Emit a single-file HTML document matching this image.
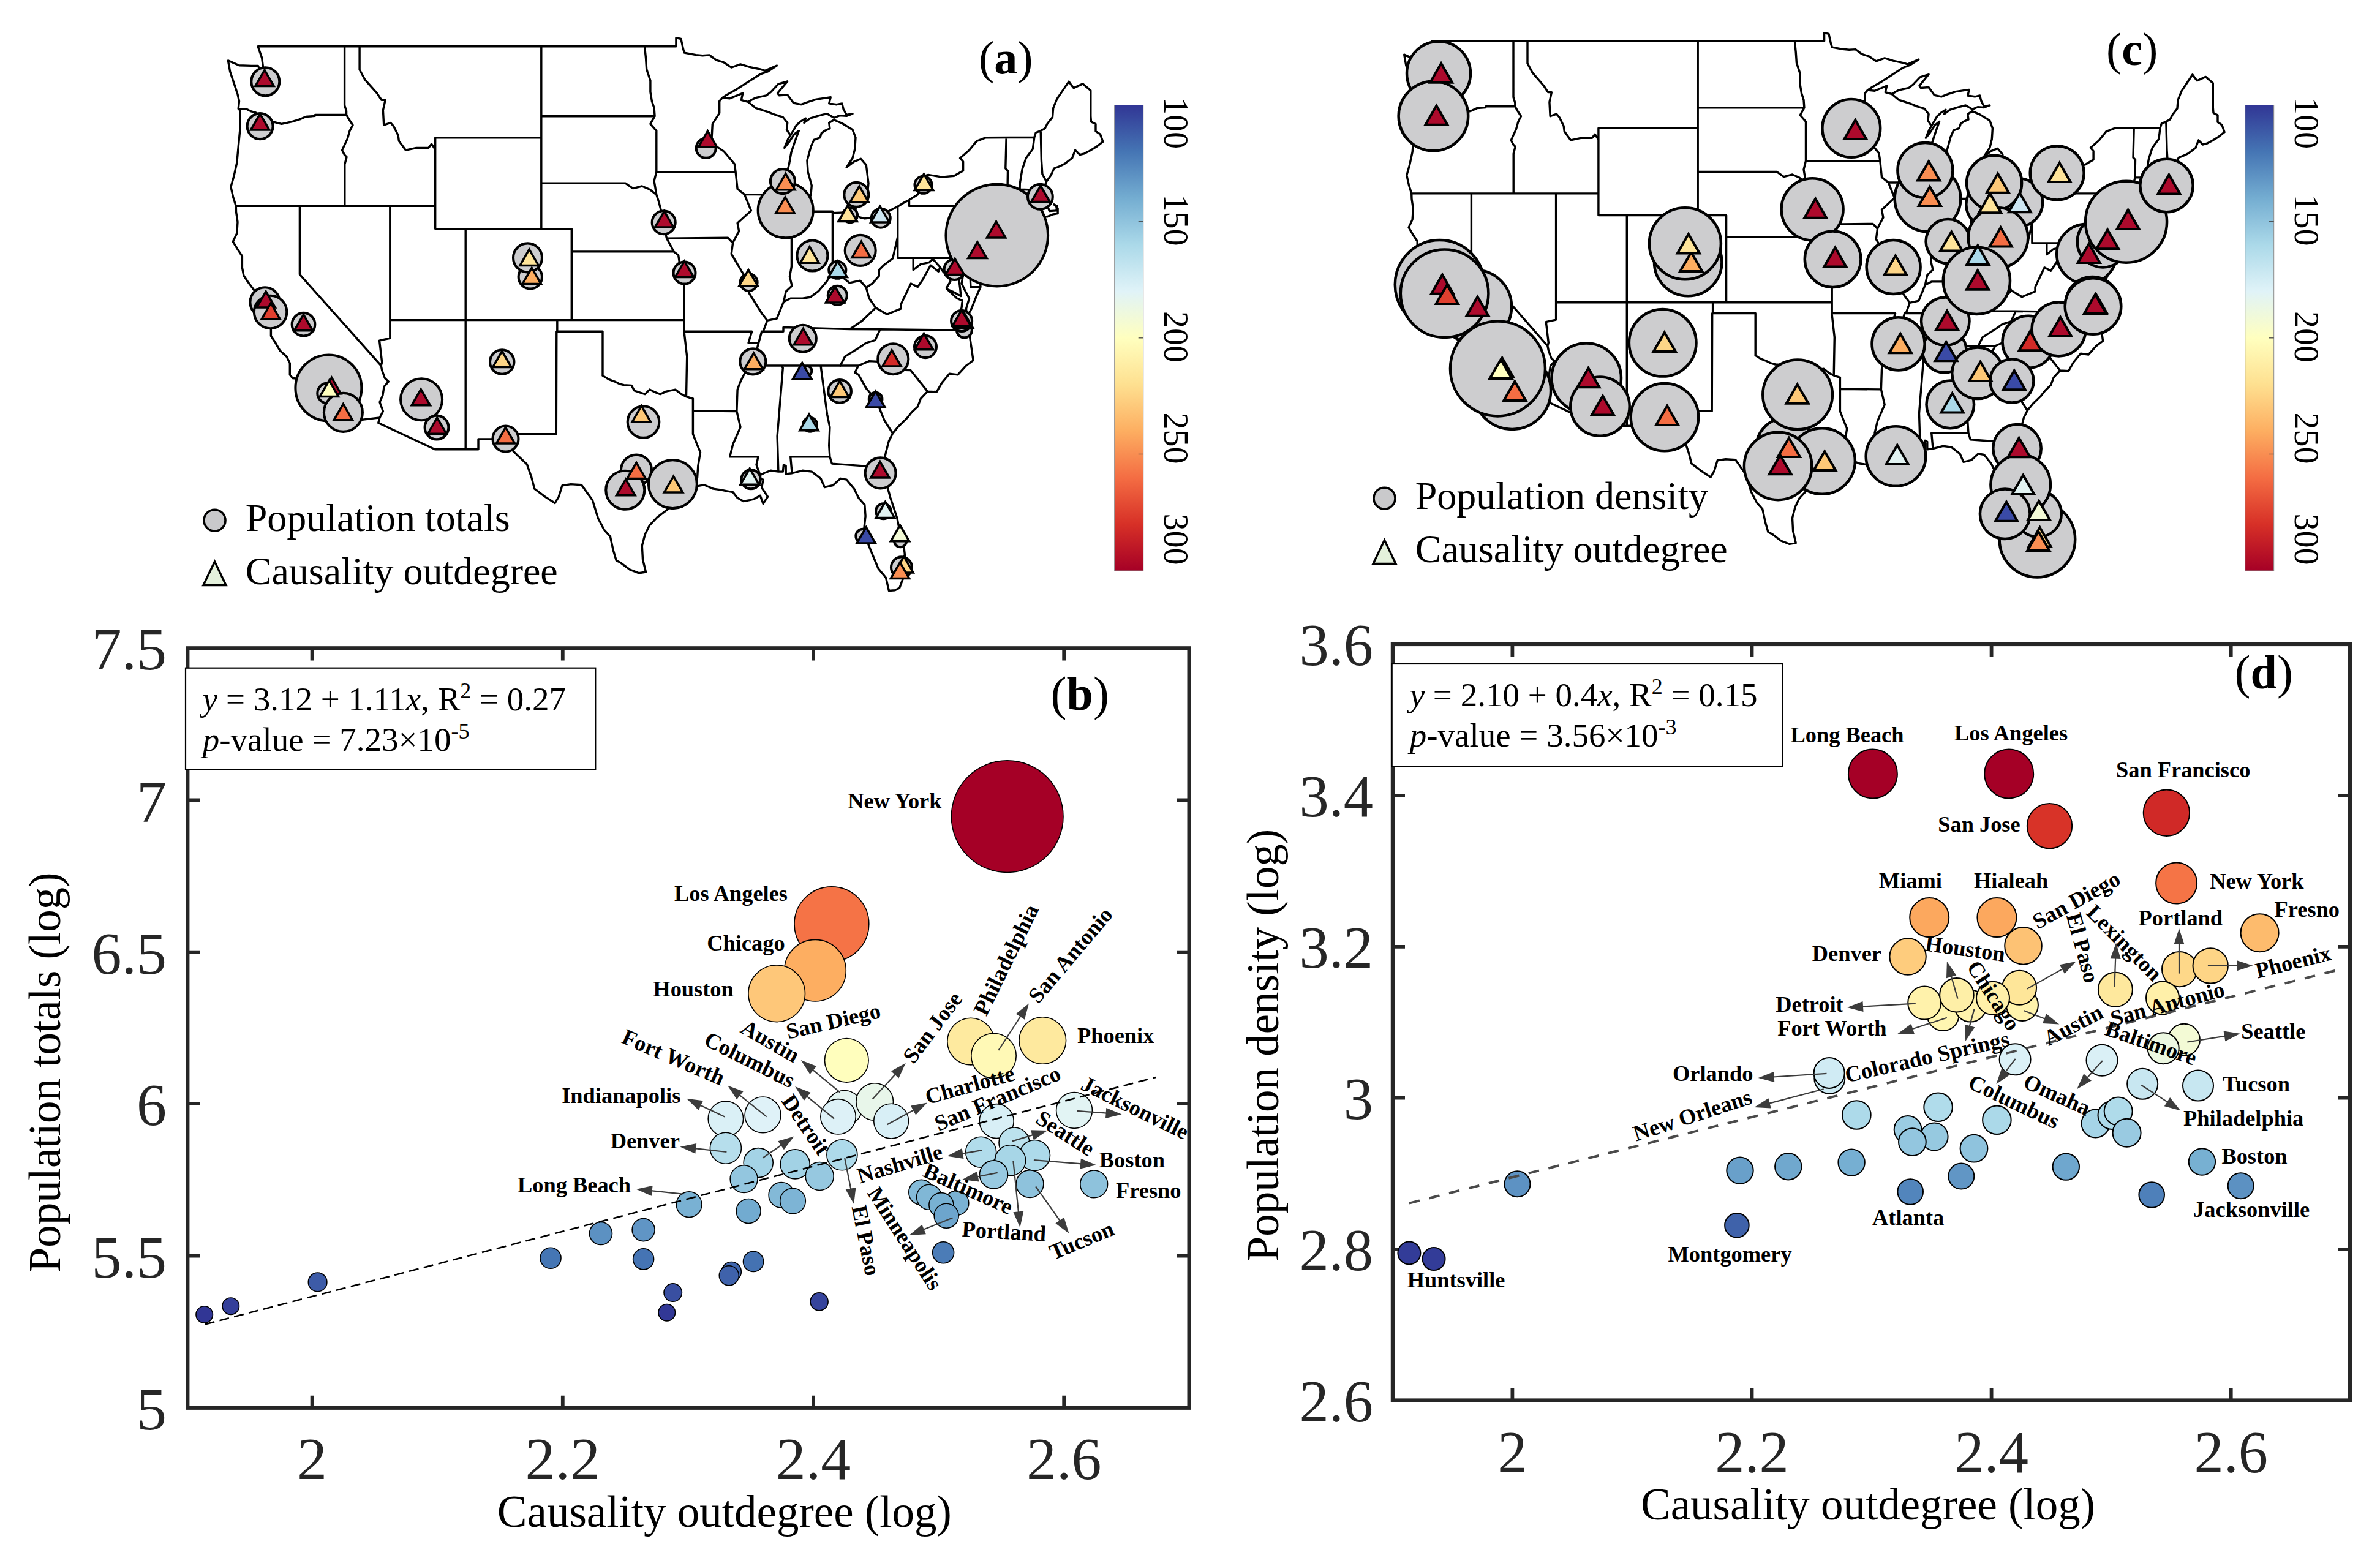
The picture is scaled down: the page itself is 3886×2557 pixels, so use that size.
<!DOCTYPE html>
<html><head><meta charset="utf-8"><title>Figure</title>
<style>
html,body{margin:0;padding:0;background:#fff;}
body{width:3886px;height:2557px;overflow:hidden;}
svg{display:block;}
text{font-family:"Liberation Serif",serif;fill:#000;}
.b{font-weight:bold;}
.i{font-style:italic;}
</style></head><body>
<svg width="3886" height="2557" viewBox="0 0 3886 2557">
<path d="M421.1 75.8 L1103.9 75.8 L1103.9 61.7 L1111.9 63.5 L1115.6 80.3 L1117.5 86.2 L1136.1 89.6 L1147.2 90.7 L1158.3 89.9 L1169.5 98.1 L1181.8 101.9 L1194.2 110.1 L1209.0 104.8 L1223.9 109.3 L1241.2 113.0 L1249.1 115.3 L1268.4 107.1 L1253.6 116.8 L1241.2 121.2 L1218.9 135.4 L1201.6 146.5 L1186.8 154.7 L1179.4 159.6 M1179.4 159.6 L1191.7 160.7 L1206.6 154.7 L1212.8 152.1 L1210.3 163.3 L1221.4 166.3 L1233.8 159.6 L1251.1 155.8 L1258.5 150.3 L1270.9 137.2 L1285.7 132.8 L1275.8 144.7 L1269.6 152.1 L1272.1 155.8 L1285.7 154.7 L1295.6 168.1 L1308.0 170.7 L1317.9 167.0 L1332.7 162.2 L1350.0 159.6 L1356.2 158.8 L1353.7 168.9 L1366.1 170.7 L1374.7 168.9 L1377.2 178.2 L1382.2 187.5 L1392.0 185.6 L1382.2 189.4 L1371.0 188.6 L1361.9 192.3 L1350.0 185.6 L1337.6 188.6 L1322.8 193.1 L1312.9 200.5 L1315.4 193.1 L1306.7 198.7 L1300.5 204.2 L1290.7 221.0 M1290.7 221.0 L1286.9 226.6 L1280.8 241.5 L1288.2 232.2 L1296.8 219.1 L1304.3 213.6 L1298.1 230.3 L1291.9 248.9 L1288.2 269.4 L1283.2 288.0 L1283.2 299.2 L1285.7 318.2 L1286.9 329.0 L1290.7 342.0 L1292.6 347.2 L1300.5 350.2 L1309.9 345.3 L1317.9 332.7 L1324.0 317.8 L1325.3 302.9 L1319.1 280.6 L1317.9 261.9 L1324.0 239.6 L1329.0 228.4 L1338.9 224.7 L1341.3 217.3 L1346.3 213.6 L1354.9 209.8 L1353.7 200.5 L1361.6 195.7 M1361.6 195.7 L1374.7 201.3 L1392.0 211.7 L1397.0 224.7 L1395.8 243.3 L1392.0 258.2 L1382.2 273.1 L1394.5 263.8 L1405.6 259.3 L1414.3 269.4 L1418.0 299.2 L1416.8 312.2 L1408.1 319.7 L1401.9 327.1 L1399.5 336.4 L1393.3 346.5 M1393.3 346.5 L1404.4 355.0 L1411.8 356.9 L1429.1 355.0 L1436.6 355.0 L1448.9 345.7 L1465.7 337.2 L1476.1 330.8 L1484.5 326.4 L1498.4 317.8 L1505.8 303.6 L1502.1 289.5 L1515.7 285.4 L1538.0 289.1 L1557.7 287.3 L1572.6 278.7 L1572.6 263.8 L1567.6 258.2 L1582.5 245.2 L1594.8 230.3 L1609.7 224.7 L1688.8 224.3 M1688.8 224.3 L1691.3 216.5 L1699.2 213.6 L1706.1 209.8 L1709.8 202.4 L1718.5 191.2 L1719.7 176.3 L1725.9 161.4 L1745.2 133.1 L1749.4 139.1 L1753.1 143.6 L1767.9 136.9 L1780.8 147.7 L1780.8 189.7 L1781.5 198.7 L1789.0 202.4 L1789.0 214.3 L1796.4 219.1 L1800.8 231.4 M1800.8 231.4 L1790.2 239.6 L1777.8 247.1 L1770.4 250.8 L1763.0 252.6 L1755.6 245.2 L1750.6 258.2 L1738.3 267.5 L1730.8 271.3 L1721.0 275.0 L1716.0 286.1 L1708.6 296.6 L1705.6 304.0 L1711.1 312.2 L1703.6 317.8 L1701.2 323.4 L1708.6 329.0 L1711.1 338.3 L1713.5 344.6 L1724.7 343.9 L1725.9 336.4 L1721.0 333.8 L1727.1 340.1 L1727.1 348.7 L1718.5 350.2 L1709.8 353.9 L1702.4 353.2 L1698.2 355.0 M1698.2 355.0 L1692.5 349.4 L1691.3 356.9 L1689.3 360.2 L1679.9 361.7 L1666.5 363.6 L1654.2 363.6 L1644.3 369.9 L1635.6 373.6 L1633.2 378.1 L1646.8 376.6 L1661.6 374.8 L1669.0 368.8 L1679.9 371.0 L1664.1 380.0 L1646.8 386.7 L1629.5 389.3 L1625.7 386.7 L1627.0 393.4 L1627.0 410.9 L1623.3 422.0 L1617.1 435.1 L1609.7 446.2 L1604.0 450.7 L1601.0 440.7 L1592.4 435.1 L1588.6 427.6 L1592.4 438.8 L1597.3 451.8 L1600.3 455.5 L1601.0 468.6 L1593.6 485.3 L1586.2 503.9 L1578.8 518.1 L1577.5 503.9 L1582.5 487.2 L1577.5 477.9 L1570.1 463.0 L1572.6 448.1 L1575.0 431.3 L1567.6 438.8 L1565.2 451.8 L1567.6 470.4 L1568.9 483.5 L1555.3 476.0 L1546.6 472.3 L1562.7 487.2 L1571.3 490.9 L1570.1 502.1 L1567.6 511.4 L1570.1 522.6 L1578.3 526.3 L1580.7 539.3 M1580.7 539.3 L1583.7 551.2 L1589.1 588.5 L1577.5 597.0 L1563.9 611.9 L1550.3 610.1 L1538.0 624.9 L1529.3 639.8 L1514.5 639.1 L1503.3 651.0 L1498.4 664.0 L1488.5 673.3 L1481.1 682.6 L1467.5 695.7 L1457.6 707.6 L1451.4 719.9 L1446.5 738.5 L1442.7 756.7 L1444.0 768.3 L1447.7 790.6 L1453.9 813.0 L1461.3 835.3 L1465.0 846.5 L1469.9 872.5 L1476.1 894.9 L1477.9 909.8 L1476.1 932.1 L1474.9 943.3 L1468.7 960.0 L1461.3 963.7 L1451.4 964.5 L1446.5 943.3 L1434.1 928.4 L1427.9 913.5 L1421.7 898.6 L1414.3 880.0 L1410.6 865.1 L1413.1 842.7 L1411.8 824.1 L1401.9 813.0 L1394.5 798.1 L1382.2 783.2 L1372.3 781.3 L1359.9 792.5 L1346.3 795.5 L1340.1 781.3 L1325.3 770.1 L1310.4 768.3 L1293.1 772.7 M1293.1 772.7 L1283.2 773.9 L1283.2 760.8 L1279.5 759.0 L1278.3 770.1 L1270.9 770.1 L1258.5 768.3 L1248.6 772.0 L1241.2 775.7 L1237.5 781.3 L1246.1 783.2 L1243.7 796.2 L1253.6 811.1 L1246.1 822.3 L1241.2 809.2 L1231.3 814.8 L1223.9 816.7 L1214.0 818.5 L1204.1 813.0 L1196.7 803.6 L1186.8 801.8 L1176.9 799.9 L1164.5 798.1 L1149.7 791.7 L1136.1 794.3 L1122.5 799.9 L1113.8 807.4 L1105.2 818.5 L1090.3 831.6 L1073.0 844.6 L1060.7 857.6 L1053.2 872.5 L1048.3 891.1 L1049.5 913.5 L1054.5 934.0 M1054.5 934.0 L1043.4 935.8 L1028.5 930.2 L1013.7 919.1 L1006.3 915.3 L1001.3 898.6 L996.4 876.2 L986.5 865.1 L976.6 846.5 L967.4 816.7 L959.3 805.5 L949.4 791.7 L932.1 790.6 L918.0 792.8 L912.3 811.1 L906.1 821.5 L890.0 811.1 L872.7 798.1 L867.8 779.4 L860.3 757.9 L845.5 744.1 L830.7 729.2 L822.5 716.9 L781.0 716.9 L781.0 733.7 L710.2 733.7 L617.7 690.5 L620.0 681.9 L560.6 689.0 M560.6 689.0 L557.4 677.1 L556.2 667.8 L548.8 656.6 L538.9 647.3 L531.4 644.7 L527.7 636.1 L519.1 633.5 L509.2 629.8 L499.3 619.4 L477.8 617.5 L473.3 611.9 L473.3 593.3 L467.9 582.1 L457.3 572.8 L449.8 559.8 L442.4 548.6 L442.4 537.5 L444.9 528.1 L437.5 523.7 L430.0 515.1 L427.6 503.9 L427.6 492.8 L416.4 485.3 L415.2 474.2 L405.3 461.1 L397.9 450.0 L395.4 436.9 L395.4 418.3 L388.0 407.1 L380.3 394.5 L386.8 381.1 L388.0 362.5 L385.5 345.7 L385.3 336.4 L380.6 321.5 L376.9 305.1 L381.8 288.0 L386.8 265.7 L389.2 239.6 L391.7 213.6 L391.7 191.2 L391.7 180.0 L389.2 177.4 L390.5 165.2 L388.0 154.0 L383.1 139.1 L375.6 116.8 L372.4 98.9 L390.5 106.7 L410.3 107.4 L421.4 107.4 L425.1 116.8 L417.7 142.8 L427.6 141.0 L431.3 127.9 L430.0 113.0 L427.6 94.4 L421.1 75.8 M389.2 177.4 L402.8 178.2 L410.3 181.9 L417.7 183.8 L420.2 193.1 L421.4 200.5 L432.5 204.2 L444.9 198.7 L459.7 202.4 L477.0 198.7 L489.4 194.9 L499.3 190.5 L514.1 189.4 L514.6 187.5 L565.6 187.5 M562.6 75.8 L562.6 171.9 L565.6 181.2 L565.6 187.5 M565.6 187.5 L569.8 194.9 L576.0 204.2 L571.0 213.6 L567.3 226.6 L558.6 245.2 L562.4 252.6 L566.1 256.4 L562.8 268.3 L562.8 336.4 M587.1 75.8 L587.1 113.8 L595.7 129.8 L605.6 141.0 L615.5 152.1 L622.9 163.3 L629.1 163.3 L625.4 180.0 L626.7 204.2 L637.8 200.5 L642.7 206.1 L650.1 221.0 L651.4 230.3 L662.5 245.2 L679.8 241.5 L699.6 241.5 L704.6 235.1 L710.7 244.1 M710.7 224.7 L710.7 373.6 M385.3 336.4 L710.7 336.4 M710.7 224.7 L883.8 224.7 M710.7 373.6 L933.3 373.6 M883.8 75.8 L883.8 373.6 M489.4 336.4 L489.4 448.1 L622.2 597.0 M636.8 336.4 L636.8 552.3 L627.9 554.2 L619.5 556.1 L621.7 574.7 L623.7 591.4 L622.2 597.0 M622.2 597.0 L623.7 604.5 L628.4 617.5 L634.3 623.1 L627.1 631.3 L624.9 645.4 L620.0 656.6 L625.4 671.5 L620.0 681.9 M636.8 522.6 L1117.0 522.6 M760.2 373.6 L760.2 733.7 L781.0 733.7 M933.3 373.6 L933.3 522.6 M909.8 522.6 L909.8 541.2 M908.8 541.2 L908.3 708.7 L820.3 708.7 L822.5 716.9 M909.8 541.2 L984.0 541.2 L984.0 613.4 M984.0 613.4 L993.9 619.4 L1003.8 623.1 L1011.2 626.8 L1018.6 628.7 L1031.0 629.4 L1035.9 638.0 L1053.2 643.6 L1060.7 636.1 L1068.1 639.8 L1078.0 643.6 L1087.9 639.1 L1102.7 636.1 L1112.6 643.6 L1120.5 647.7 L1131.4 651.0 M883.8 189.7 L1069.1 189.7 M883.8 299.2 L1021.1 299.2 L1033.5 307.7 L1048.3 304.0 L1060.7 309.2 L1071.8 317.8 M933.3 410.9 L1100.0 410.9 M1052.5 75.8 L1054.5 94.4 L1055.7 113.0 L1061.9 131.6 L1061.9 150.3 L1064.4 165.2 L1068.1 176.3 L1069.1 189.7 M1069.1 189.7 L1061.9 202.4 L1071.8 213.6 L1071.8 280.6 M1071.8 280.6 L1201.1 280.6 M1071.8 280.6 L1068.1 295.5 L1071.8 317.8 M1071.8 317.8 L1075.5 329.0 L1080.4 347.6 L1084.9 364.0 L1086.6 381.1 L1088.6 389.3 L1095.3 401.6 L1100.0 410.9 L1107.6 416.5 L1110.1 433.2 L1117.3 444.0 L1117.3 541.2 M1088.6 389.3 L1188.5 388.2 L1196.7 396.7 M1117.0 541.2 L1227.6 541.2 L1222.1 559.8 L1238.7 559.8 M1117.0 541.2 L1121.7 582.1 L1120.5 647.7 M1131.4 651.0 L1131.4 708.7 L1137.3 723.6 L1143.5 738.5 L1139.8 760.8 L1138.6 779.4 L1136.1 794.3 M1131.4 670.7 L1202.9 671.5 M1179.4 159.6 L1174.7 165.2 L1174.7 184.5 L1163.3 202.4 L1162.1 224.7 L1162.1 234.0 L1181.8 247.1 L1199.2 267.5 L1201.1 280.6 L1204.1 308.5 L1215.5 317.4 L1226.4 343.9 L1204.1 364.3 L1206.6 377.4 L1196.7 396.0 L1194.2 414.6 L1214.0 448.1 L1226.4 455.5 L1226.8 461.9 L1222.6 477.9 L1243.7 511.4 L1252.8 523.3 L1246.1 541.2 L1243.7 541.2 L1238.7 559.8 L1229.6 592.2 L1223.9 597.0 L1216.5 608.2 L1209.0 623.1 L1204.1 636.1 L1202.9 671.5 L1209.0 697.5 L1196.7 725.5 L1191.7 745.9 L1238.0 745.9 L1235.0 759.0 L1241.2 775.7 M1215.5 317.4 L1285.7 318.2 M1221.4 166.3 L1233.8 176.3 L1253.6 182.7 L1265.9 187.5 L1278.3 191.2 L1285.7 200.5 L1284.5 211.7 L1290.7 221.0 M1292.4 347.2 L1292.4 435.1 L1289.4 451.8 L1293.1 466.7 L1283.2 476.0 L1279.5 492.8 M1300.5 345.3 L1359.4 345.3 L1359.4 347.6 L1393.3 346.5 M1359.4 347.6 L1359.4 444.4 M1465.7 387.0 L1462.0 403.4 L1457.6 422.0 L1442.7 433.2 L1435.3 440.7 L1435.3 450.7 L1424.2 463.0 L1414.3 469.7 L1404.4 458.2 L1387.1 461.9 L1372.3 450.0 L1367.3 444.4 L1359.4 444.4 L1350.0 459.3 L1336.4 475.3 L1322.8 485.3 L1310.4 487.2 L1290.7 487.2 L1279.5 492.8 L1268.4 520.0 L1252.8 523.3 M1465.7 337.2 L1465.7 421.3 M1465.7 421.3 L1582.7 421.3 L1587.4 417.2 L1591.9 418.3 M1243.7 541.2 L1279.0 541.2 L1279.0 534.5 L1387.6 537.5 L1437.1 537.8 L1580.7 539.3 M1387.6 537.5 L1406.9 524.4 L1429.9 502.5 L1419.2 487.2 L1414.3 469.7 M1429.9 502.5 L1448.2 513.3 L1471.2 503.9 L1471.2 496.5 L1487.3 463.0 L1498.4 468.6 L1506.5 456.7 L1519.4 433.2 L1532.3 443.3 L1535.0 436.2 M1535.0 436.2 L1523.1 422.8 L1516.9 428.7 L1503.3 431.3 L1491.2 440.7 L1491.2 421.3 M1535.0 436.2 L1540.4 444.4 L1551.8 451.8 L1551.8 459.3 L1545.4 470.4 M1582.7 421.3 L1584.9 468.6 L1601.0 468.6 M1437.1 537.8 L1429.1 555.3 L1414.3 559.8 L1401.9 568.4 L1379.7 582.1 L1371.8 597.4 M1223.9 597.0 L1401.7 597.0 M1275.8 597.0 L1278.3 600.7 L1269.1 712.4 L1270.9 770.1 M1340.1 597.8 L1350.5 676.3 L1354.9 697.5 L1353.7 727.3 L1354.9 745.9 M1290.7 745.9 L1354.9 745.9 M1290.7 745.9 L1293.1 772.7 M1354.9 745.9 L1358.4 757.1 L1424.2 761.9 L1427.9 769.8 L1429.1 755.2 L1442.7 756.7 M1457.6 707.6 L1444.0 686.4 L1430.4 652.9 L1414.3 634.2 L1401.9 611.9 L1395.8 608.2 L1401.7 597.0 M1401.7 597.0 L1419.2 589.6 L1452.9 591.4 L1452.9 595.2 L1455.6 593.3 L1459.3 603.7 L1486.8 604.5 L1514.5 639.1 M1484.5 326.4 L1484.5 336.4 L1593.6 336.4 L1601.0 351.3 L1609.7 360.2 L1599.0 374.8 L1597.3 386.7 L1608.4 403.4 L1599.8 412.7 L1591.9 418.3 L1588.6 427.6 M1609.7 360.2 L1629.5 373.6 M1635.6 373.6 L1639.3 362.5 L1639.3 334.5 L1645.0 308.9 L1645.5 278.7 L1641.8 275.0 L1643.1 224.7 M1639.3 334.5 L1681.4 335.7 L1691.8 335.7 M1681.4 335.7 L1681.4 358.0 L1679.9 361.7 M1691.8 335.7 L1691.8 340.1 L1696.2 348.3 L1698.2 355.0 M1645.0 308.9 L1665.1 309.2 L1693.8 310.3 L1696.2 306.6 L1705.6 304.0 M1688.8 224.3 L1686.3 243.3 L1675.2 258.2 L1669.0 276.8 L1665.3 299.2 L1665.1 309.2 M1708.6 296.6 L1701.9 284.3 L1700.4 261.9 L1699.2 213.6" fill="none" stroke="#000" stroke-width="3.4" stroke-linejoin="round" stroke-linecap="round"/>
<path d="M2338.4 67.1 L2978.6 67.1 L2978.6 53.6 L2986.0 55.4 L2989.5 71.4 L2991.4 77.1 L3008.8 80.3 L3019.2 81.3 L3029.6 80.6 L3040.1 88.4 L3051.7 92.0 L3063.3 99.8 L3077.2 94.8 L3091.1 99.1 L3107.3 102.6 L3114.8 104.8 L3132.8 97.0 L3118.9 106.2 L3107.3 110.5 L3086.5 124.0 L3070.2 134.6 L3056.3 142.5 L3049.4 147.1 M3049.4 147.1 L3061.0 148.2 L3074.9 142.5 L3080.7 140.0 L3078.3 150.6 L3088.8 153.5 L3100.4 147.1 L3116.6 143.5 L3123.6 138.2 L3135.2 125.8 L3149.1 121.5 L3139.8 132.9 L3134.0 140.0 L3136.3 143.5 L3149.1 142.5 L3158.4 155.3 L3169.9 157.8 L3179.2 154.2 L3193.1 149.6 L3209.4 147.1 L3215.2 146.4 L3212.8 156.0 L3224.4 157.8 L3232.6 156.0 L3234.9 164.9 L3239.5 173.8 L3248.8 172.0 L3239.5 175.5 L3229.1 174.8 L3220.5 178.4 L3209.4 172.0 L3197.8 174.8 L3183.9 179.1 L3174.6 186.2 L3176.9 179.1 L3168.8 184.4 L3163.0 189.7 L3153.7 205.7 M3153.7 205.7 L3150.2 211.1 L3144.4 225.3 L3151.4 216.4 L3159.5 204.0 L3166.5 198.6 L3160.7 214.6 L3154.9 232.4 L3151.4 252.0 L3146.8 269.7 L3146.8 280.4 L3149.1 298.5 L3150.2 308.8 L3153.7 321.3 L3155.6 326.3 L3163.0 329.1 L3171.8 324.5 L3179.2 312.4 L3185.0 298.2 L3186.2 284.0 L3180.4 262.6 L3179.2 244.8 L3185.0 223.5 L3189.7 212.9 L3198.9 209.3 L3201.3 202.2 L3205.9 198.6 L3214.0 195.1 L3212.8 186.2 L3220.3 181.6 M3220.3 181.6 L3232.6 186.9 L3248.8 196.9 L3253.4 209.3 L3252.3 227.1 L3248.8 241.3 L3239.5 255.5 L3251.1 246.6 L3261.5 242.4 L3269.7 252.0 L3273.1 280.4 L3272.0 292.8 L3263.9 300.0 L3258.1 307.1 L3255.7 315.9 L3250.0 325.5 M3250.0 325.5 L3260.4 333.7 L3267.3 335.5 L3283.6 333.7 L3290.5 333.7 L3302.1 324.8 L3317.9 316.7 L3327.6 310.6 L3335.5 306.4 L3348.5 298.2 L3355.5 284.7 L3352.0 271.2 L3364.7 267.2 L3385.6 270.8 L3404.2 269.0 L3418.1 260.8 L3418.1 246.6 L3413.4 241.3 L3427.4 228.9 L3439.0 214.6 L3452.9 209.3 L3527.1 208.9 M3527.1 208.9 L3529.4 201.5 L3536.8 198.6 L3543.3 195.1 L3546.8 188.0 L3554.9 177.3 L3556.1 163.1 L3561.9 148.9 L3579.9 121.8 L3583.9 127.5 L3587.4 131.8 L3601.3 125.4 L3613.3 135.7 L3613.3 175.9 L3614.0 184.4 L3621.0 188.0 L3621.0 199.3 L3627.9 204.0 L3632.1 215.7 M3632.1 215.7 L3622.2 223.5 L3610.6 230.6 L3603.6 234.2 L3596.6 236.0 L3589.7 228.9 L3585.0 241.3 L3573.5 250.2 L3566.5 253.7 L3557.2 257.3 L3552.6 268.0 L3545.6 277.9 L3542.8 285.0 L3547.9 292.8 L3541.0 298.2 L3538.7 303.5 L3545.6 308.8 L3547.9 317.7 L3550.3 323.8 L3560.7 323.1 L3561.9 315.9 L3557.2 313.5 L3563.0 319.5 L3563.0 327.7 L3554.9 329.1 L3546.8 332.7 L3539.8 331.9 L3535.9 333.7 M3535.9 333.7 L3530.6 328.4 L3529.4 335.5 L3527.5 338.7 L3518.7 340.1 L3506.2 341.9 L3494.6 341.9 L3485.3 347.9 L3477.2 351.5 L3474.9 355.8 L3487.6 354.3 L3501.6 352.6 L3508.5 346.9 L3518.7 349.0 L3503.9 357.5 L3487.6 363.9 L3471.4 366.4 L3467.9 363.9 L3469.1 370.3 L3469.1 387.0 L3465.6 397.7 L3459.8 410.2 L3452.9 420.8 L3447.5 425.1 L3444.7 415.5 L3436.6 410.2 L3433.2 403.0 L3436.6 413.7 L3441.3 426.2 L3444.1 429.7 L3444.7 442.2 L3437.8 458.1 L3430.8 475.9 L3423.9 489.4 L3422.7 475.9 L3427.4 459.9 L3422.7 451.0 L3415.8 436.8 L3418.1 422.6 L3420.4 406.6 L3413.4 413.7 L3411.1 426.2 L3413.4 443.9 L3414.6 456.4 L3401.8 449.3 L3393.7 445.7 L3408.8 459.9 L3416.9 463.5 L3415.8 474.1 L3413.4 483.0 L3415.8 493.7 L3423.4 497.3 L3425.7 509.7 M3425.7 509.7 L3428.5 521.1 L3433.6 556.6 L3422.7 564.8 L3410.0 579.0 L3397.2 577.2 L3385.6 591.5 L3377.5 605.7 L3363.6 605.0 L3353.1 616.3 L3348.5 628.8 L3339.2 637.7 L3332.3 646.6 L3319.5 659.0 L3310.2 670.4 L3304.4 682.1 L3299.8 699.9 L3296.3 717.3 L3297.5 728.3 L3301.0 749.7 L3306.8 771.0 L3313.7 792.3 L3317.2 803.0 L3321.8 827.9 L3327.6 849.2 L3329.3 863.4 L3327.6 884.8 L3326.5 895.4 L3320.7 911.4 L3313.7 915.0 L3304.4 915.7 L3299.8 895.4 L3288.2 881.2 L3282.4 867.0 L3276.6 852.8 L3269.7 835.0 L3266.2 820.8 L3268.5 799.4 L3267.3 781.7 L3258.1 771.0 L3251.1 756.8 L3239.5 742.5 L3230.2 740.8 L3218.6 751.4 L3205.9 754.3 L3200.1 740.8 L3186.2 730.1 L3172.3 728.3 L3156.0 732.6 M3156.0 732.6 L3146.8 733.7 L3146.8 721.2 L3143.3 719.4 L3142.1 730.1 L3135.2 730.1 L3123.6 728.3 L3114.3 731.9 L3107.3 735.4 L3103.9 740.8 L3112.0 742.5 L3109.7 755.0 L3118.9 769.2 L3112.0 779.9 L3107.3 767.4 L3098.1 772.8 L3091.1 774.5 L3081.8 776.3 L3072.5 771.0 L3065.6 762.1 L3056.3 760.3 L3047.0 758.5 L3035.4 756.8 L3021.5 750.7 L3008.8 753.2 L2996.0 758.5 L2987.9 765.7 L2979.8 776.3 L2965.9 788.8 L2949.6 801.2 L2938.0 813.6 L2931.1 827.9 L2926.5 845.6 L2927.6 867.0 L2932.2 886.5 M2932.2 886.5 L2921.8 888.3 L2907.9 883.0 L2894.0 872.3 L2887.0 868.8 L2882.4 852.8 L2877.8 831.4 L2868.5 820.8 L2859.2 803.0 L2850.6 774.5 L2843.0 763.9 L2833.7 750.7 L2817.5 749.7 L2804.2 751.8 L2798.9 769.2 L2793.1 779.2 L2778.0 769.2 L2761.8 756.8 L2757.2 739.0 L2750.2 718.4 L2736.3 705.2 L2722.4 691.0 L2714.7 679.3 L2675.8 679.3 L2675.8 695.3 L2609.4 695.3 L2522.7 654.0 L2524.8 645.9 L2469.1 652.6 M2469.1 652.6 L2466.1 641.2 L2465.0 632.3 L2458.0 621.7 L2448.7 612.8 L2441.8 610.3 L2438.3 602.1 L2430.2 599.6 L2420.9 596.1 L2411.6 586.1 L2391.5 584.4 L2387.3 579.0 L2387.3 561.2 L2382.2 550.6 L2372.2 541.7 L2365.3 529.2 L2358.3 518.6 L2358.3 507.9 L2360.6 499.0 L2353.7 494.8 L2346.7 486.6 L2344.4 475.9 L2344.4 465.3 L2333.9 458.1 L2332.8 447.5 L2323.5 435.0 L2316.6 424.4 L2314.2 411.9 L2314.2 394.2 L2307.3 383.5 L2300.1 371.4 L2306.1 358.6 L2307.3 340.8 L2305.0 324.8 L2304.7 315.9 L2300.3 301.7 L2296.8 286.1 L2301.5 269.7 L2306.1 248.4 L2308.4 223.5 L2310.8 198.6 L2310.8 177.3 L2310.8 166.6 L2308.4 164.2 L2309.6 152.4 L2307.3 141.8 L2302.6 127.5 L2295.7 106.2 L2292.7 89.1 L2309.6 96.6 L2328.1 97.3 L2338.6 97.3 L2342.1 106.2 L2335.1 131.1 L2344.4 129.3 L2347.9 116.9 L2346.7 102.6 L2344.4 84.9 L2338.4 67.1 M2308.4 164.2 L2321.2 164.9 L2328.1 168.4 L2335.1 170.2 L2337.4 179.1 L2338.6 186.2 L2349.0 189.7 L2360.6 184.4 L2374.5 188.0 L2390.8 184.4 L2402.4 180.9 L2411.6 176.6 L2425.5 175.5 L2426.0 173.8 L2473.8 173.8 M2471.0 67.1 L2471.0 158.8 L2473.8 167.7 L2473.8 173.8 M2473.8 173.8 L2477.7 180.9 L2483.5 189.7 L2478.9 198.6 L2475.4 211.1 L2467.3 228.9 L2470.8 236.0 L2474.2 239.5 L2471.2 250.9 L2471.2 315.9 M2494.0 67.1 L2494.0 103.4 L2502.1 118.6 L2511.4 129.3 L2520.6 140.0 L2527.6 150.6 L2533.4 150.6 L2529.9 166.6 L2531.1 189.7 L2541.5 186.2 L2546.1 191.5 L2553.1 205.7 L2554.3 214.6 L2564.7 228.9 L2580.9 225.3 L2599.5 225.3 L2604.1 219.3 L2609.9 227.8 M2609.9 209.3 L2609.9 351.5 M2304.7 315.9 L2609.9 315.9 M2609.9 209.3 L2772.2 209.3 M2609.9 351.5 L2818.6 351.5 M2772.2 67.1 L2772.2 351.5 M2402.4 315.9 L2402.4 422.6 L2526.9 564.8 M2540.6 315.9 L2540.6 522.1 L2532.2 523.9 L2524.3 525.7 L2526.4 543.5 L2528.3 559.5 L2526.9 564.8 M2526.9 564.8 L2528.3 571.9 L2532.7 584.4 L2538.3 589.7 L2531.5 597.5 L2529.4 611.0 L2524.8 621.7 L2529.9 635.9 L2524.8 645.9 M2540.6 493.7 L2990.9 493.7 M2656.3 351.5 L2656.3 695.3 L2675.8 695.3 M2818.6 351.5 L2818.6 493.7 M2796.6 493.7 L2796.6 511.5 M2795.7 511.5 L2795.2 671.4 L2712.6 671.4 L2714.7 679.3 M2796.6 511.5 L2866.2 511.5 L2866.2 580.4 M2866.2 580.4 L2875.4 586.1 L2884.7 589.7 L2891.7 593.2 L2898.6 595.0 L2910.2 595.7 L2914.9 603.9 L2931.1 609.2 L2938.0 602.1 L2945.0 605.7 L2954.3 609.2 L2963.6 605.0 L2977.5 602.1 L2986.7 609.2 L2994.2 613.1 L3004.4 616.3 M2772.2 175.9 L2945.9 175.9 M2772.2 280.4 L2900.9 280.4 L2912.5 288.6 L2926.5 285.0 L2938.0 290.0 L2948.5 298.2 M2818.6 387.0 L2974.9 387.0 M2930.4 67.1 L2932.2 84.9 L2933.4 102.6 L2939.2 120.4 L2939.2 138.2 L2941.5 152.4 L2945.0 163.1 L2945.9 175.9 M2945.9 175.9 L2939.2 188.0 L2948.5 198.6 L2948.5 262.6 M2948.5 262.6 L3069.8 262.6 M2948.5 262.6 L2945.0 276.8 L2948.5 298.2 M2948.5 298.2 L2952.0 308.8 L2956.6 326.6 L2960.8 342.3 L2962.4 358.6 L2964.3 366.4 L2970.5 378.2 L2974.9 387.0 L2982.1 392.4 L2984.4 408.4 L2991.2 418.7 L2991.2 511.5 M2964.3 366.4 L3057.9 365.4 L3065.6 373.5 M2990.9 511.5 L3094.6 511.5 L3089.5 529.2 L3105.0 529.2 M2990.9 511.5 L2995.3 550.6 L2994.2 613.1 M3004.4 616.3 L3004.4 671.4 L3009.9 685.7 L3015.7 699.9 L3012.3 721.2 L3011.1 739.0 L3008.8 753.2 M3004.4 635.2 L3071.4 635.9 M3049.4 147.1 L3045.0 152.4 L3045.0 170.9 L3034.3 188.0 L3033.1 209.3 L3033.1 218.2 L3051.7 230.6 L3067.9 250.2 L3069.8 262.6 L3072.5 289.3 L3083.2 297.8 L3093.4 323.1 L3072.5 342.6 L3074.9 355.1 L3065.6 372.8 L3063.3 390.6 L3081.8 422.6 L3093.4 429.7 L3093.9 435.8 L3089.9 451.0 L3109.7 483.0 L3118.2 494.4 L3112.0 511.5 L3109.7 511.5 L3105.0 529.2 L3096.4 560.2 L3091.1 564.8 L3084.1 575.5 L3077.2 589.7 L3072.5 602.1 L3071.4 635.9 L3077.2 660.8 L3065.6 687.4 L3061.0 707.0 L3104.3 707.0 L3101.5 719.4 L3107.3 735.4 M3083.2 297.8 L3149.1 298.5 M3088.8 153.5 L3100.4 163.1 L3118.9 169.1 L3130.5 173.8 L3142.1 177.3 L3149.1 186.2 L3147.9 196.9 L3153.7 205.7 M3155.3 326.3 L3155.3 410.2 L3152.6 426.2 L3156.0 440.4 L3146.8 449.3 L3143.3 465.3 M3163.0 324.5 L3218.2 324.5 L3218.2 326.6 L3250.0 325.5 M3218.2 326.6 L3218.2 419.0 M3317.9 364.3 L3314.4 379.9 L3310.2 397.7 L3296.3 408.4 L3289.4 415.5 L3289.4 425.1 L3278.9 436.8 L3269.7 443.2 L3260.4 432.2 L3244.2 435.8 L3230.2 424.4 L3225.6 419.0 L3218.2 419.0 L3209.4 433.3 L3196.6 448.6 L3183.9 458.1 L3172.3 459.9 L3153.7 459.9 L3143.3 465.3 L3132.8 491.2 L3118.2 494.4 M3317.9 316.7 L3317.9 397.0 M3317.9 397.0 L3427.6 397.0 L3432.0 393.1 L3436.2 394.2 M3109.7 511.5 L3142.8 511.5 L3142.8 505.1 L3244.6 507.9 L3291.0 508.3 L3425.7 509.7 M3244.6 507.9 L3262.7 495.5 L3284.3 474.5 L3274.3 459.9 L3269.7 443.2 M3284.3 474.5 L3301.4 484.8 L3323.0 475.9 L3323.0 468.8 L3338.1 436.8 L3348.5 442.2 L3356.2 430.8 L3368.2 408.4 L3380.3 418.0 L3382.8 411.2 M3382.8 411.2 L3371.7 398.4 L3365.9 404.1 L3353.1 406.6 L3341.8 415.5 L3341.8 397.0 M3382.8 411.2 L3387.9 419.0 L3398.6 426.2 L3398.6 433.3 L3392.6 443.9 M3427.6 397.0 L3429.7 442.2 L3444.7 442.2 M3291.0 508.3 L3283.6 525.0 L3269.7 529.2 L3258.1 537.4 L3237.2 550.6 L3229.8 565.2 M3091.1 564.8 L3257.8 564.8 M3139.8 564.8 L3142.1 568.4 L3133.5 675.0 L3135.2 730.1 M3200.1 565.5 L3209.8 640.5 L3214.0 660.8 L3212.8 689.2 L3214.0 707.0 M3153.7 707.0 L3214.0 707.0 M3153.7 707.0 L3156.0 732.6 M3214.0 707.0 L3217.3 717.7 L3278.9 722.3 L3282.4 729.8 L3283.6 715.9 L3296.3 717.3 M3310.2 670.4 L3297.5 650.1 L3284.7 618.1 L3269.7 600.4 L3258.1 579.0 L3252.3 575.5 L3257.8 564.8 M3257.8 564.8 L3274.3 557.7 L3305.8 559.5 L3305.8 563.0 L3308.4 561.2 L3311.9 571.2 L3337.6 571.9 L3363.6 605.0 M3335.5 306.4 L3335.5 315.9 L3437.8 315.9 L3444.7 330.2 L3452.9 338.7 L3442.9 352.6 L3441.3 363.9 L3451.7 379.9 L3443.6 388.8 L3436.2 394.2 L3433.2 403.0 M3452.9 338.7 L3471.4 351.5 M3477.2 351.5 L3480.7 340.8 L3480.7 314.2 L3486.0 289.6 L3486.5 260.8 L3483.0 257.3 L3484.2 209.3 M3480.7 314.2 L3520.1 315.2 L3529.9 315.2 M3520.1 315.2 L3520.1 336.6 L3518.7 340.1 M3529.9 315.2 L3529.9 319.5 L3534.0 327.3 L3535.9 333.7 M3486.0 289.6 L3504.8 290.0 L3531.7 291.1 L3534.0 287.5 L3542.8 285.0 M3527.1 208.9 L3524.8 227.1 L3514.3 241.3 L3508.5 259.1 L3505.0 280.4 L3504.8 290.0 M3545.6 277.9 L3539.4 266.2 L3538.0 244.8 L3536.8 198.6" fill="none" stroke="#000" stroke-width="3.4" stroke-linejoin="round" stroke-linecap="round"/>
<circle cx="433.3" cy="133.3" r="23.0" fill="#cdcdcf" stroke="#000" stroke-width="4.1"/>
<circle cx="424.6" cy="206.1" r="21.0" fill="#cdcdcf" stroke="#000" stroke-width="4.1"/>
<circle cx="495.5" cy="529.7" r="18.8" fill="#cdcdcf" stroke="#000" stroke-width="4.1"/>
<circle cx="819.7" cy="591.0" r="19.7" fill="#cdcdcf" stroke="#000" stroke-width="4.1"/>
<circle cx="825.5" cy="716.5" r="21.0" fill="#cdcdcf" stroke="#000" stroke-width="4.1"/>
<circle cx="1050.5" cy="689.1" r="25.8" fill="#cdcdcf" stroke="#000" stroke-width="4.1"/>
<circle cx="1152.7" cy="241.9" r="16.0" fill="#cdcdcf" stroke="#000" stroke-width="4.1"/>
<circle cx="1083.7" cy="363.2" r="19.0" fill="#cdcdcf" stroke="#000" stroke-width="4.1"/>
<circle cx="1117.5" cy="445.6" r="18.0" fill="#cdcdcf" stroke="#000" stroke-width="4.1"/>
<circle cx="1222.6" cy="461.0" r="14.0" fill="#cdcdcf" stroke="#000" stroke-width="4.1"/>
<circle cx="1438.2" cy="356.2" r="15.5" fill="#cdcdcf" stroke="#000" stroke-width="4.1"/>
<circle cx="1388.0" cy="351.4" r="12.0" fill="#cdcdcf" stroke="#000" stroke-width="4.1"/>
<circle cx="1398.3" cy="317.9" r="20.0" fill="#cdcdcf" stroke="#000" stroke-width="4.1"/>
<circle cx="1507.5" cy="301.8" r="14.0" fill="#cdcdcf" stroke="#000" stroke-width="4.1"/>
<circle cx="1367.3" cy="440.8" r="14.0" fill="#cdcdcf" stroke="#000" stroke-width="4.1"/>
<circle cx="1326.4" cy="417.5" r="25.0" fill="#cdcdcf" stroke="#000" stroke-width="4.1"/>
<circle cx="1404.7" cy="408.9" r="25.0" fill="#cdcdcf" stroke="#000" stroke-width="4.1"/>
<circle cx="1367.3" cy="482.4" r="15.5" fill="#cdcdcf" stroke="#000" stroke-width="4.1"/>
<circle cx="1458.3" cy="586.2" r="25.0" fill="#cdcdcf" stroke="#000" stroke-width="4.1"/>
<circle cx="1511.0" cy="566.1" r="18.0" fill="#cdcdcf" stroke="#000" stroke-width="4.1"/>
<circle cx="1317.8" cy="605.4" r="7.6" fill="#cdcdcf" stroke="#000" stroke-width="4.1"/>
<circle cx="1310.8" cy="552.7" r="22.0" fill="#cdcdcf" stroke="#000" stroke-width="4.1"/>
<circle cx="1229.3" cy="590.4" r="21.0" fill="#cdcdcf" stroke="#000" stroke-width="4.1"/>
<circle cx="1322.6" cy="693.2" r="11.4" fill="#cdcdcf" stroke="#000" stroke-width="4.1"/>
<circle cx="1371.1" cy="638.9" r="18.8" fill="#cdcdcf" stroke="#000" stroke-width="4.1"/>
<circle cx="1429.6" cy="651.7" r="10.8" fill="#cdcdcf" stroke="#000" stroke-width="4.1"/>
<circle cx="1226.1" cy="782.7" r="15.6" fill="#cdcdcf" stroke="#000" stroke-width="4.1"/>
<circle cx="1472.0" cy="926.4" r="17.0" fill="#cdcdcf" stroke="#000" stroke-width="4.1"/>
<circle cx="1470.1" cy="883.3" r="10.0" fill="#cdcdcf" stroke="#000" stroke-width="4.1"/>
<circle cx="1437.6" cy="772.4" r="25.0" fill="#cdcdcf" stroke="#000" stroke-width="4.1"/>
<circle cx="1442.4" cy="834.7" r="12.4" fill="#cdcdcf" stroke="#000" stroke-width="4.1"/>
<circle cx="1408.8" cy="875.3" r="11.4" fill="#cdcdcf" stroke="#000" stroke-width="4.1"/>
<circle cx="1282.7" cy="343.4" r="45.0" fill="#cdcdcf" stroke="#000" stroke-width="4.1"/>
<circle cx="1277.9" cy="296.1" r="20.0" fill="#cdcdcf" stroke="#000" stroke-width="4.1"/>
<circle cx="865.8" cy="452.3" r="19.2" fill="#cdcdcf" stroke="#000" stroke-width="4.1"/>
<circle cx="861.5" cy="420.9" r="23.5" fill="#cdcdcf" stroke="#000" stroke-width="4.1"/>
<circle cx="432.6" cy="493.5" r="24.2" fill="#cdcdcf" stroke="#000" stroke-width="4.1"/>
<circle cx="441.6" cy="509.5" r="26.7" fill="#cdcdcf" stroke="#000" stroke-width="4.1"/>
<circle cx="536.4" cy="633.5" r="54.0" fill="#cdcdcf" stroke="#000" stroke-width="4.1"/>
<circle cx="534.8" cy="642.1" r="16.5" fill="#cdcdcf" stroke="#000" stroke-width="4.1"/>
<circle cx="560.4" cy="673.4" r="31.5" fill="#cdcdcf" stroke="#000" stroke-width="4.1"/>
<circle cx="688.1" cy="652.3" r="34.0" fill="#cdcdcf" stroke="#000" stroke-width="4.1"/>
<circle cx="713.0" cy="698.0" r="19.4" fill="#cdcdcf" stroke="#000" stroke-width="4.1"/>
<circle cx="1039.0" cy="767.6" r="25.0" fill="#cdcdcf" stroke="#000" stroke-width="4.1"/>
<circle cx="1020.8" cy="800.2" r="31.5" fill="#cdcdcf" stroke="#000" stroke-width="4.1"/>
<circle cx="1098.4" cy="790.6" r="39.5" fill="#cdcdcf" stroke="#000" stroke-width="4.1"/>
<circle cx="1558.6" cy="440.0" r="17.0" fill="#cdcdcf" stroke="#000" stroke-width="4.1"/>
<circle cx="1598.0" cy="408.0" r="30.0" fill="#cdcdcf" stroke="#000" stroke-width="4.1"/>
<circle cx="1627.8" cy="384.2" r="83.3" fill="#cdcdcf" stroke="#000" stroke-width="4.1"/>
<circle cx="1698.4" cy="321.3" r="20.4" fill="#cdcdcf" stroke="#000" stroke-width="4.1"/>
<circle cx="1574.5" cy="539.0" r="12.4" fill="#cdcdcf" stroke="#000" stroke-width="4.1"/>
<circle cx="1570.1" cy="524.0" r="17.0" fill="#cdcdcf" stroke="#000" stroke-width="4.1"/>
<path d="M432.0 114.3 L416.9 140.5 L447.1 140.5Z" fill="#ad0a2c" stroke="#000" stroke-width="3.5" stroke-linejoin="miter"/>
<path d="M424.6 185.9 L409.5 212.1 L439.8 212.1Z" fill="#ad0a2c" stroke="#000" stroke-width="3.5" stroke-linejoin="miter"/>
<path d="M434.2 475.9 L419.1 502.1 L449.3 502.1Z" fill="#ad0a2c" stroke="#000" stroke-width="3.5" stroke-linejoin="miter"/>
<path d="M442.2 495.0 L427.1 521.2 L457.3 521.2Z" fill="#e0402f" stroke="#000" stroke-width="3.5" stroke-linejoin="miter"/>
<path d="M495.5 513.6 L480.4 539.8 L510.6 539.8Z" fill="#ad0a2c" stroke="#000" stroke-width="3.5" stroke-linejoin="miter"/>
<path d="M541.5 616.5 L526.4 642.7 L556.6 642.7Z" fill="#ad0a2c" stroke="#000" stroke-width="3.5" stroke-linejoin="miter"/>
<path d="M560.4 659.6 L545.2 685.8 L575.5 685.8Z" fill="#f46d43" stroke="#000" stroke-width="3.5" stroke-linejoin="miter"/>
<path d="M687.2 635.6 L672.1 661.8 L702.4 661.8Z" fill="#ad0a2c" stroke="#000" stroke-width="3.5" stroke-linejoin="miter"/>
<path d="M713.7 682.0 L698.6 708.2 L728.9 708.2Z" fill="#ad0a2c" stroke="#000" stroke-width="3.5" stroke-linejoin="miter"/>
<path d="M819.7 573.4 L804.6 599.6 L834.9 599.6Z" fill="#fdd587" stroke="#000" stroke-width="3.5" stroke-linejoin="miter"/>
<path d="M825.5 697.9 L810.4 724.1 L840.6 724.1Z" fill="#f46d43" stroke="#000" stroke-width="3.5" stroke-linejoin="miter"/>
<path d="M868.3 437.4 L853.1 463.6 L883.4 463.6Z" fill="#fdae61" stroke="#000" stroke-width="3.5" stroke-linejoin="miter"/>
<path d="M864.1 407.2 L849.0 433.4 L879.2 433.4Z" fill="#fee49a" stroke="#000" stroke-width="3.5" stroke-linejoin="miter"/>
<path d="M1047.3 662.8 L1032.1 689.0 L1062.5 689.0Z" fill="#fdc877" stroke="#000" stroke-width="3.5" stroke-linejoin="miter"/>
<path d="M1039.0 755.4 L1023.9 781.6 L1054.2 781.6Z" fill="#f46d43" stroke="#000" stroke-width="3.5" stroke-linejoin="miter"/>
<path d="M1021.7 782.6 L1006.6 808.8 L1036.9 808.8Z" fill="#ad0a2c" stroke="#000" stroke-width="3.5" stroke-linejoin="miter"/>
<path d="M1099.6 777.8 L1084.4 804.0 L1114.8 804.0Z" fill="#fdc877" stroke="#000" stroke-width="3.5" stroke-linejoin="miter"/>
<path d="M1155.5 214.0 L1140.3 240.2 L1170.7 240.2Z" fill="#ad0a2c" stroke="#000" stroke-width="3.5" stroke-linejoin="miter"/>
<path d="M1084.6 344.9 L1069.4 371.1 L1099.8 371.1Z" fill="#ad0a2c" stroke="#000" stroke-width="3.5" stroke-linejoin="miter"/>
<path d="M1117.5 426.4 L1102.3 452.6 L1132.7 452.6Z" fill="#ad0a2c" stroke="#000" stroke-width="3.5" stroke-linejoin="miter"/>
<path d="M1222.0 440.7 L1206.8 466.9 L1237.2 466.9Z" fill="#fdd587" stroke="#000" stroke-width="3.5" stroke-linejoin="miter"/>
<path d="M1282.0 321.9 L1266.8 348.1 L1297.2 348.1Z" fill="#f98e52" stroke="#000" stroke-width="3.5" stroke-linejoin="miter"/>
<path d="M1282.7 283.6 L1267.5 309.8 L1297.9 309.8Z" fill="#f98e52" stroke="#000" stroke-width="3.5" stroke-linejoin="miter"/>
<path d="M1436.9 336.9 L1421.8 363.1 L1452.1 363.1Z" fill="#cde6f2" stroke="#000" stroke-width="3.5" stroke-linejoin="miter"/>
<path d="M1384.2 335.3 L1369.0 361.5 L1399.4 361.5Z" fill="#fee49a" stroke="#000" stroke-width="3.5" stroke-linejoin="miter"/>
<path d="M1403.1 304.0 L1387.9 330.2 L1418.2 330.2Z" fill="#fdc877" stroke="#000" stroke-width="3.5" stroke-linejoin="miter"/>
<path d="M1508.5 284.2 L1493.3 310.4 L1523.7 310.4Z" fill="#fee49a" stroke="#000" stroke-width="3.5" stroke-linejoin="miter"/>
<path d="M1367.9 426.4 L1352.8 452.6 L1383.1 452.6Z" fill="#abd9e9" stroke="#000" stroke-width="3.5" stroke-linejoin="miter"/>
<path d="M1321.9 403.0 L1306.8 429.2 L1337.1 429.2Z" fill="#fee49a" stroke="#000" stroke-width="3.5" stroke-linejoin="miter"/>
<path d="M1406.3 394.4 L1391.1 420.6 L1421.5 420.6Z" fill="#f46d43" stroke="#000" stroke-width="3.5" stroke-linejoin="miter"/>
<path d="M1363.5 467.9 L1348.3 494.1 L1378.7 494.1Z" fill="#ad0a2c" stroke="#000" stroke-width="3.5" stroke-linejoin="miter"/>
<path d="M1559.2 422.4 L1544.0 448.6 L1574.4 448.6Z" fill="#ad0a2c" stroke="#000" stroke-width="3.5" stroke-linejoin="miter"/>
<path d="M1595.9 395.2 L1580.8 421.4 L1611.1 421.4Z" fill="#ad0a2c" stroke="#000" stroke-width="3.5" stroke-linejoin="miter"/>
<path d="M1626.6 361.7 L1611.4 387.9 L1641.8 387.9Z" fill="#ad0a2c" stroke="#000" stroke-width="3.5" stroke-linejoin="miter"/>
<path d="M1699.0 303.3 L1683.8 329.5 L1714.2 329.5Z" fill="#ad0a2c" stroke="#000" stroke-width="3.5" stroke-linejoin="miter"/>
<path d="M1573.5 509.5 L1558.3 535.7 L1588.7 535.7Z" fill="#ad0a2c" stroke="#000" stroke-width="3.5" stroke-linejoin="miter"/>
<path d="M1570.1 506.3 L1554.9 532.5 L1585.2 532.5Z" fill="#ad0a2c" stroke="#000" stroke-width="3.5" stroke-linejoin="miter"/>
<path d="M1456.1 571.8 L1440.9 598.0 L1471.2 598.0Z" fill="#d42a27" stroke="#000" stroke-width="3.5" stroke-linejoin="miter"/>
<path d="M1508.5 544.6 L1493.3 570.8 L1523.7 570.8Z" fill="#ad0a2c" stroke="#000" stroke-width="3.5" stroke-linejoin="miter"/>
<path d="M1309.8 592.5 L1294.6 618.7 L1325.0 618.7Z" fill="#3a4aa6" stroke="#000" stroke-width="3.5" stroke-linejoin="miter"/>
<path d="M1311.4 536.6 L1296.2 562.8 L1326.6 562.8Z" fill="#ad0a2c" stroke="#000" stroke-width="3.5" stroke-linejoin="miter"/>
<path d="M1230.6 576.6 L1215.4 602.8 L1245.8 602.8Z" fill="#fdae61" stroke="#000" stroke-width="3.5" stroke-linejoin="miter"/>
<path d="M1321.0 676.5 L1305.8 702.7 L1336.2 702.7Z" fill="#abd9e9" stroke="#000" stroke-width="3.5" stroke-linejoin="miter"/>
<path d="M1371.1 622.2 L1355.9 648.4 L1386.2 648.4Z" fill="#fdc877" stroke="#000" stroke-width="3.5" stroke-linejoin="miter"/>
<path d="M1429.6 638.8 L1414.4 665.0 L1444.8 665.0Z" fill="#3a4aa6" stroke="#000" stroke-width="3.5" stroke-linejoin="miter"/>
<path d="M1224.2 765.0 L1209.0 791.2 L1239.4 791.2Z" fill="#e2f3f2" stroke="#000" stroke-width="3.5" stroke-linejoin="miter"/>
<path d="M1475.9 908.7 L1460.8 934.9 L1491.1 934.9Z" fill="#fdd587" stroke="#000" stroke-width="3.5" stroke-linejoin="miter"/>
<path d="M1469.5 857.6 L1454.3 883.8 L1484.7 883.8Z" fill="#f3fad6" stroke="#000" stroke-width="3.5" stroke-linejoin="miter"/>
<path d="M1436.9 753.8 L1421.8 780.0 L1452.1 780.0Z" fill="#ad0a2c" stroke="#000" stroke-width="3.5" stroke-linejoin="miter"/>
<path d="M1445.5 819.3 L1430.3 845.5 L1460.7 845.5Z" fill="#e2f3f2" stroke="#000" stroke-width="3.5" stroke-linejoin="miter"/>
<path d="M1414.2 860.8 L1399.0 887.0 L1429.4 887.0Z" fill="#3a4aa6" stroke="#000" stroke-width="3.5" stroke-linejoin="miter"/>
<path d="M537.4 621.3 L522.2 647.5 L552.5 647.5Z" fill="#ffffbf" stroke="#000" stroke-width="3.5" stroke-linejoin="miter"/>
<path d="M1469.5 918.3 L1454.3 944.5 L1484.7 944.5Z" fill="#f98e52" stroke="#000" stroke-width="3.5" stroke-linejoin="miter"/>
<circle cx="2349.0" cy="119.8" r="52.0" fill="#cdcdcf" stroke="#000" stroke-width="4.5"/>
<circle cx="2408.1" cy="500.7" r="60.0" fill="#cdcdcf" stroke="#000" stroke-width="4.5"/>
<circle cx="2590.2" cy="617.3" r="56.8" fill="#cdcdcf" stroke="#000" stroke-width="4.5"/>
<circle cx="2714.7" cy="559.8" r="54.8" fill="#cdcdcf" stroke="#000" stroke-width="4.5"/>
<circle cx="2717.9" cy="681.1" r="55.2" fill="#cdcdcf" stroke="#000" stroke-width="4.5"/>
<circle cx="2756.2" cy="428.1" r="55.2" fill="#cdcdcf" stroke="#000" stroke-width="4.5"/>
<circle cx="2915.3" cy="730.6" r="47.8" fill="#cdcdcf" stroke="#000" stroke-width="4.5"/>
<circle cx="3022.8" cy="209.4" r="47.4" fill="#cdcdcf" stroke="#000" stroke-width="4.5"/>
<circle cx="2959.1" cy="341.8" r="50.5" fill="#cdcdcf" stroke="#000" stroke-width="4.5"/>
<circle cx="2992.6" cy="423.3" r="45.8" fill="#cdcdcf" stroke="#000" stroke-width="4.5"/>
<circle cx="3091.6" cy="436.0" r="44.0" fill="#cdcdcf" stroke="#000" stroke-width="4.5"/>
<circle cx="3147.5" cy="324.3" r="53.8" fill="#cdcdcf" stroke="#000" stroke-width="4.5"/>
<circle cx="3296.0" cy="330.6" r="39.2" fill="#cdcdcf" stroke="#000" stroke-width="4.5"/>
<circle cx="3358.7" cy="282.4" r="44.0" fill="#cdcdcf" stroke="#000" stroke-width="4.5"/>
<circle cx="3223.7" cy="416.4" r="33.8" fill="#cdcdcf" stroke="#000" stroke-width="4.5"/>
<circle cx="3407.0" cy="414.5" r="48.8" fill="#cdcdcf" stroke="#000" stroke-width="4.5"/>
<circle cx="3312.0" cy="558.2" r="42.5" fill="#cdcdcf" stroke="#000" stroke-width="4.5"/>
<circle cx="3174.7" cy="572.5" r="35.8" fill="#cdcdcf" stroke="#000" stroke-width="4.5"/>
<circle cx="3184.3" cy="660.4" r="38.8" fill="#cdcdcf" stroke="#000" stroke-width="4.5"/>
<circle cx="3095.5" cy="745.0" r="48.8" fill="#cdcdcf" stroke="#000" stroke-width="4.5"/>
<circle cx="3326.4" cy="880.7" r="61.8" fill="#cdcdcf" stroke="#000" stroke-width="4.5"/>
<circle cx="2340.4" cy="189.5" r="56.8" fill="#cdcdcf" stroke="#000" stroke-width="4.5"/>
<circle cx="2350.6" cy="464.8" r="72.8" fill="#cdcdcf" stroke="#000" stroke-width="4.5"/>
<circle cx="2612.5" cy="663.6" r="48.2" fill="#cdcdcf" stroke="#000" stroke-width="4.5"/>
<circle cx="2751.4" cy="397.7" r="58.5" fill="#cdcdcf" stroke="#000" stroke-width="4.5"/>
<circle cx="2975.1" cy="753.0" r="53.8" fill="#cdcdcf" stroke="#000" stroke-width="4.5"/>
<circle cx="3143.4" cy="277.9" r="45.0" fill="#cdcdcf" stroke="#000" stroke-width="4.5"/>
<circle cx="3248.1" cy="333.8" r="37.8" fill="#cdcdcf" stroke="#000" stroke-width="4.5"/>
<circle cx="3180.6" cy="394.1" r="36.0" fill="#cdcdcf" stroke="#000" stroke-width="4.5"/>
<circle cx="3433.5" cy="394.7" r="41.8" fill="#cdcdcf" stroke="#000" stroke-width="4.5"/>
<circle cx="3361.5" cy="537.4" r="44.0" fill="#cdcdcf" stroke="#000" stroke-width="4.5"/>
<circle cx="3176.3" cy="524.6" r="39.2" fill="#cdcdcf" stroke="#000" stroke-width="4.5"/>
<circle cx="3099.6" cy="561.4" r="43.1" fill="#cdcdcf" stroke="#000" stroke-width="4.5"/>
<circle cx="3229.0" cy="609.3" r="41.8" fill="#cdcdcf" stroke="#000" stroke-width="4.5"/>
<circle cx="3328.0" cy="839.0" r="37.8" fill="#cdcdcf" stroke="#000" stroke-width="4.5"/>
<circle cx="2358.6" cy="479.2" r="71.8" fill="#cdcdcf" stroke="#000" stroke-width="4.5"/>
<circle cx="2444.9" cy="602.5" r="67.8" fill="#cdcdcf" stroke="#000" stroke-width="4.5"/>
<circle cx="2935.1" cy="644.4" r="56.8" fill="#cdcdcf" stroke="#000" stroke-width="4.5"/>
<circle cx="2903.1" cy="761.0" r="55.2" fill="#cdcdcf" stroke="#000" stroke-width="4.5"/>
<circle cx="3256.1" cy="298.7" r="45.0" fill="#cdcdcf" stroke="#000" stroke-width="4.5"/>
<circle cx="3262.5" cy="388.1" r="48.8" fill="#cdcdcf" stroke="#000" stroke-width="4.5"/>
<circle cx="3471.6" cy="362.2" r="66.5" fill="#cdcdcf" stroke="#000" stroke-width="4.5"/>
<circle cx="3416.5" cy="495.7" r="43.8" fill="#cdcdcf" stroke="#000" stroke-width="4.5"/>
<circle cx="3284.9" cy="622.0" r="35.5" fill="#cdcdcf" stroke="#000" stroke-width="4.5"/>
<circle cx="3293.5" cy="732.2" r="39.2" fill="#cdcdcf" stroke="#000" stroke-width="4.5"/>
<circle cx="2468.9" cy="637.7" r="63.2" fill="#cdcdcf" stroke="#000" stroke-width="4.5"/>
<circle cx="3537.5" cy="303.0" r="43.2" fill="#cdcdcf" stroke="#000" stroke-width="4.5"/>
<circle cx="3417.5" cy="500.0" r="45.8" fill="#cdcdcf" stroke="#000" stroke-width="4.5"/>
<circle cx="3299.2" cy="791.3" r="48.8" fill="#cdcdcf" stroke="#000" stroke-width="4.5"/>
<circle cx="2445.5" cy="601.9" r="77.5" fill="#cdcdcf" stroke="#000" stroke-width="4.5"/>
<circle cx="3273.7" cy="839.2" r="40.8" fill="#cdcdcf" stroke="#000" stroke-width="4.5"/>
<circle cx="3227.4" cy="458.4" r="54.6" fill="#cdcdcf" stroke="#000" stroke-width="4.5"/>
<path d="M2353.1 103.5 L2335.1 134.7 L2371.1 134.7Z" fill="#ad0a2c" stroke="#000" stroke-width="4.0" stroke-linejoin="miter"/>
<path d="M2345.4 172.5 L2327.4 203.7 L2363.4 203.7Z" fill="#ad0a2c" stroke="#000" stroke-width="4.0" stroke-linejoin="miter"/>
<path d="M2355.0 448.6 L2337.0 479.8 L2373.0 479.8Z" fill="#ad0a2c" stroke="#000" stroke-width="4.0" stroke-linejoin="miter"/>
<path d="M2362.7 464.9 L2344.7 496.1 L2380.7 496.1Z" fill="#e0402f" stroke="#000" stroke-width="4.0" stroke-linejoin="miter"/>
<path d="M2412.5 484.6 L2394.5 515.8 L2430.5 515.8Z" fill="#ad0a2c" stroke="#000" stroke-width="4.0" stroke-linejoin="miter"/>
<path d="M2452.7 584.3 L2434.7 615.5 L2470.7 615.5Z" fill="#ad0a2c" stroke="#000" stroke-width="4.0" stroke-linejoin="miter"/>
<path d="M2473.3 622.8 L2455.3 654.0 L2491.3 654.0Z" fill="#f46d43" stroke="#000" stroke-width="4.0" stroke-linejoin="miter"/>
<path d="M2593.4 601.1 L2575.4 632.3 L2611.4 632.3Z" fill="#ad0a2c" stroke="#000" stroke-width="4.0" stroke-linejoin="miter"/>
<path d="M2617.0 646.4 L2599.0 677.6 L2635.0 677.6Z" fill="#ad0a2c" stroke="#000" stroke-width="4.0" stroke-linejoin="miter"/>
<path d="M2717.8 542.7 L2699.8 573.9 L2735.8 573.9Z" fill="#fdd587" stroke="#000" stroke-width="4.0" stroke-linejoin="miter"/>
<path d="M2722.1 662.8 L2704.1 693.9 L2740.1 693.9Z" fill="#f46d43" stroke="#000" stroke-width="4.0" stroke-linejoin="miter"/>
<path d="M2761.3 411.9 L2743.3 443.1 L2779.3 443.1Z" fill="#fdae61" stroke="#000" stroke-width="4.0" stroke-linejoin="miter"/>
<path d="M2756.9 382.3 L2738.9 413.5 L2774.9 413.5Z" fill="#fee49a" stroke="#000" stroke-width="4.0" stroke-linejoin="miter"/>
<path d="M2934.7 627.7 L2916.7 658.8 L2952.7 658.8Z" fill="#fdc877" stroke="#000" stroke-width="4.0" stroke-linejoin="miter"/>
<path d="M2920.9 715.0 L2902.9 746.1 L2938.9 746.1Z" fill="#f46d43" stroke="#000" stroke-width="4.0" stroke-linejoin="miter"/>
<path d="M2906.7 743.2 L2888.7 774.3 L2924.7 774.3Z" fill="#ad0a2c" stroke="#000" stroke-width="4.0" stroke-linejoin="miter"/>
<path d="M2979.2 736.9 L2961.2 768.0 L2997.2 768.0Z" fill="#fdc877" stroke="#000" stroke-width="4.0" stroke-linejoin="miter"/>
<path d="M3029.3 195.9 L3011.3 227.1 L3047.3 227.1Z" fill="#ad0a2c" stroke="#000" stroke-width="4.0" stroke-linejoin="miter"/>
<path d="M2964.2 324.6 L2946.2 355.8 L2982.2 355.8Z" fill="#ad0a2c" stroke="#000" stroke-width="4.0" stroke-linejoin="miter"/>
<path d="M2996.4 404.2 L2978.4 435.4 L3014.4 435.4Z" fill="#ad0a2c" stroke="#000" stroke-width="4.0" stroke-linejoin="miter"/>
<path d="M3094.9 417.4 L3076.9 448.6 L3112.9 448.6Z" fill="#fdd587" stroke="#000" stroke-width="4.0" stroke-linejoin="miter"/>
<path d="M3150.9 304.9 L3132.9 336.0 L3168.9 336.0Z" fill="#f98e52" stroke="#000" stroke-width="4.0" stroke-linejoin="miter"/>
<path d="M3149.2 263.4 L3131.2 294.5 L3167.2 294.5Z" fill="#f98e52" stroke="#000" stroke-width="4.0" stroke-linejoin="miter"/>
<path d="M3297.8 315.2 L3279.8 346.3 L3315.8 346.3Z" fill="#cde6f2" stroke="#000" stroke-width="4.0" stroke-linejoin="miter"/>
<path d="M3249.2 316.0 L3231.2 347.2 L3267.2 347.2Z" fill="#fee49a" stroke="#000" stroke-width="4.0" stroke-linejoin="miter"/>
<path d="M3262.0 283.5 L3244.0 314.7 L3280.0 314.7Z" fill="#fdc877" stroke="#000" stroke-width="4.0" stroke-linejoin="miter"/>
<path d="M3362.7 265.9 L3344.7 297.1 L3380.7 297.1Z" fill="#fee49a" stroke="#000" stroke-width="4.0" stroke-linejoin="miter"/>
<path d="M3229.3 400.8 L3211.3 432.0 L3247.3 432.0Z" fill="#abd9e9" stroke="#000" stroke-width="4.0" stroke-linejoin="miter"/>
<path d="M3186.2 378.5 L3168.2 409.6 L3204.2 409.6Z" fill="#fee49a" stroke="#000" stroke-width="4.0" stroke-linejoin="miter"/>
<path d="M3266.7 371.4 L3248.7 402.5 L3284.7 402.5Z" fill="#f46d43" stroke="#000" stroke-width="4.0" stroke-linejoin="miter"/>
<path d="M3229.1 441.6 L3211.1 472.8 L3247.1 472.8Z" fill="#ad0a2c" stroke="#000" stroke-width="4.0" stroke-linejoin="miter"/>
<path d="M3410.7 397.9 L3392.7 429.1 L3428.7 429.1Z" fill="#ad0a2c" stroke="#000" stroke-width="4.0" stroke-linejoin="miter"/>
<path d="M3441.1 375.1 L3423.1 406.2 L3459.1 406.2Z" fill="#ad0a2c" stroke="#000" stroke-width="4.0" stroke-linejoin="miter"/>
<path d="M3474.6 342.8 L3456.6 374.0 L3492.6 374.0Z" fill="#ad0a2c" stroke="#000" stroke-width="4.0" stroke-linejoin="miter"/>
<path d="M3541.4 285.3 L3523.4 316.5 L3559.4 316.5Z" fill="#ad0a2c" stroke="#000" stroke-width="4.0" stroke-linejoin="miter"/>
<path d="M3422.1 480.1 L3404.1 511.3 L3440.1 511.3Z" fill="#ad0a2c" stroke="#000" stroke-width="4.0" stroke-linejoin="miter"/>
<path d="M3421.0 480.7 L3403.0 511.9 L3439.0 511.9Z" fill="#ad0a2c" stroke="#000" stroke-width="4.0" stroke-linejoin="miter"/>
<path d="M3314.8 541.1 L3296.8 572.3 L3332.8 572.3Z" fill="#d42a27" stroke="#000" stroke-width="4.0" stroke-linejoin="miter"/>
<path d="M3364.1 517.7 L3346.1 548.9 L3382.1 548.9Z" fill="#ad0a2c" stroke="#000" stroke-width="4.0" stroke-linejoin="miter"/>
<path d="M3177.6 558.2 L3159.6 589.3 L3195.6 589.3Z" fill="#3a4aa6" stroke="#000" stroke-width="4.0" stroke-linejoin="miter"/>
<path d="M3179.1 507.5 L3161.1 538.7 L3197.1 538.7Z" fill="#ad0a2c" stroke="#000" stroke-width="4.0" stroke-linejoin="miter"/>
<path d="M3102.9 545.0 L3084.9 576.2 L3120.9 576.2Z" fill="#fdae61" stroke="#000" stroke-width="4.0" stroke-linejoin="miter"/>
<path d="M3187.6 642.2 L3169.6 673.4 L3205.6 673.4Z" fill="#abd9e9" stroke="#000" stroke-width="4.0" stroke-linejoin="miter"/>
<path d="M3233.5 590.7 L3215.5 621.9 L3251.5 621.9Z" fill="#fdc877" stroke="#000" stroke-width="4.0" stroke-linejoin="miter"/>
<path d="M3288.8 605.0 L3270.8 636.2 L3306.8 636.2Z" fill="#3a4aa6" stroke="#000" stroke-width="4.0" stroke-linejoin="miter"/>
<path d="M3097.8 726.8 L3079.8 757.9 L3115.8 757.9Z" fill="#e2f3f2" stroke="#000" stroke-width="4.0" stroke-linejoin="miter"/>
<path d="M3330.6 861.3 L3312.6 892.5 L3348.6 892.5Z" fill="#fdd587" stroke="#000" stroke-width="4.0" stroke-linejoin="miter"/>
<path d="M3329.1 818.0 L3311.1 849.1 L3347.1 849.1Z" fill="#f3fad6" stroke="#000" stroke-width="4.0" stroke-linejoin="miter"/>
<path d="M3296.6 715.0 L3278.6 746.2 L3314.6 746.2Z" fill="#ad0a2c" stroke="#000" stroke-width="4.0" stroke-linejoin="miter"/>
<path d="M3303.4 775.8 L3285.4 807.0 L3321.4 807.0Z" fill="#e2f3f2" stroke="#000" stroke-width="4.0" stroke-linejoin="miter"/>
<path d="M3276.0 819.6 L3258.0 850.8 L3294.0 850.8Z" fill="#3a4aa6" stroke="#000" stroke-width="4.0" stroke-linejoin="miter"/>
<path d="M2450.5 586.9 L2432.5 618.1 L2468.5 618.1Z" fill="#ffffbf" stroke="#000" stroke-width="4.0" stroke-linejoin="miter"/>
<path d="M3328.3 867.8 L3310.3 899.0 L3346.3 899.0Z" fill="#f98e52" stroke="#000" stroke-width="4.0" stroke-linejoin="miter"/>
<rect x="306.2" y="1058.4" width="1635.5" height="1240.3" fill="none" stroke="#262626" stroke-width="6.4"/>
<path d="M509.6 2298.7 v-20 M509.6 1058.4 v20" stroke="#262626" stroke-width="5.8" fill="none"/>
<path d="M918.8 2298.7 v-20 M918.8 1058.4 v20" stroke="#262626" stroke-width="5.8" fill="none"/>
<path d="M1328.0 2298.7 v-20 M1328.0 1058.4 v20" stroke="#262626" stroke-width="5.8" fill="none"/>
<path d="M1737.2 2298.7 v-20 M1737.2 1058.4 v20" stroke="#262626" stroke-width="5.8" fill="none"/>
<path d="M306.2 1306.5 h20 M1941.7 1306.5 h-20" stroke="#262626" stroke-width="5.8" fill="none"/>
<path d="M306.2 1554.7 h20 M1941.7 1554.7 h-20" stroke="#262626" stroke-width="5.8" fill="none"/>
<path d="M306.2 1802.1 h20 M1941.7 1802.1 h-20" stroke="#262626" stroke-width="5.8" fill="none"/>
<path d="M306.2 2050.6 h20 M1941.7 2050.6 h-20" stroke="#262626" stroke-width="5.8" fill="none"/>
<text x="509.6" y="2414.7" font-size="98.0" text-anchor="middle" style="fill:#262626">2</text>
<text x="918.8" y="2414.7" font-size="98.0" text-anchor="middle" style="fill:#262626">2.2</text>
<text x="1328.0" y="2414.7" font-size="98.0" text-anchor="middle" style="fill:#262626">2.4</text>
<text x="1737.2" y="2414.7" font-size="98.0" text-anchor="middle" style="fill:#262626">2.6</text>
<text x="272.0" y="1093.4" font-size="98.0" text-anchor="end" style="fill:#262626">7.5</text>
<text x="272.0" y="1341.5" font-size="98.0" text-anchor="end" style="fill:#262626">7</text>
<text x="272.0" y="1589.7" font-size="98.0" text-anchor="end" style="fill:#262626">6.5</text>
<text x="272.0" y="1837.1" font-size="98.0" text-anchor="end" style="fill:#262626">6</text>
<text x="272.0" y="2085.6" font-size="98.0" text-anchor="end" style="fill:#262626">5.5</text>
<text x="272.0" y="2333.7" font-size="98.0" text-anchor="end" style="fill:#262626">5</text>
<text x="1182.8" y="2493" font-size="73" text-anchor="middle">Causality outdegree (log)</text>
<text font-size="73" text-anchor="middle" transform="translate(98 1751) rotate(-90)">Population totals (log)</text>
<circle cx="1644.7" cy="1333.2" r="91.3" fill="#a50026" stroke="#000" stroke-width="1.6"/>
<circle cx="1357.9" cy="1508.8" r="60.9" fill="#f57346" stroke="#000" stroke-width="1.6"/>
<circle cx="1331.0" cy="1584.7" r="50.3" fill="#fdae61" stroke="#000" stroke-width="1.6"/>
<circle cx="1268.2" cy="1622.3" r="46.3" fill="#fec779" stroke="#000" stroke-width="1.6"/>
<circle cx="1585.1" cy="1700.6" r="38.3" fill="#feea9f" stroke="#000" stroke-width="1.6"/>
<circle cx="1622.5" cy="1723.9" r="36.7" fill="#fff9b6" stroke="#000" stroke-width="1.6"/>
<circle cx="1702.3" cy="1699.0" r="38.3" fill="#fee99e" stroke="#000" stroke-width="1.6"/>
<circle cx="1382.3" cy="1731.3" r="35.8" fill="#fffebd" stroke="#000" stroke-width="1.6"/>
<circle cx="1378.7" cy="1809.2" r="28.7" fill="#e4f4f1" stroke="#000" stroke-width="1.6"/>
<circle cx="1428.2" cy="1799.1" r="30.3" fill="#e8f6ea" stroke="#000" stroke-width="1.6"/>
<circle cx="1368.5" cy="1823.3" r="28.7" fill="#ddf1f7" stroke="#000" stroke-width="1.6"/>
<circle cx="1455.1" cy="1830.6" r="28.4" fill="#d8eff6" stroke="#000" stroke-width="1.6"/>
<circle cx="1245.5" cy="1820.4" r="29.4" fill="#dff2f8" stroke="#000" stroke-width="1.6"/>
<circle cx="1184.9" cy="1826.8" r="28.7" fill="#daf0f6" stroke="#000" stroke-width="1.6"/>
<circle cx="1627.2" cy="1830.6" r="28.0" fill="#d8eff6" stroke="#000" stroke-width="1.6"/>
<circle cx="1754.0" cy="1813.0" r="29.4" fill="#e2f4f4" stroke="#000" stroke-width="1.6"/>
<circle cx="1184.9" cy="1874.7" r="25.5" fill="#b6deec" stroke="#000" stroke-width="1.6"/>
<circle cx="1238.2" cy="1898.6" r="24.0" fill="#a4d3e6" stroke="#000" stroke-width="1.6"/>
<circle cx="1298.2" cy="1900.9" r="24.0" fill="#a2d2e5" stroke="#000" stroke-width="1.6"/>
<circle cx="1374.9" cy="1885.8" r="25.0" fill="#aedaea" stroke="#000" stroke-width="1.6"/>
<circle cx="1214.6" cy="1925.1" r="22.4" fill="#93c6df" stroke="#000" stroke-width="1.6"/>
<circle cx="1338.2" cy="1920.5" r="23.0" fill="#96c8e0" stroke="#000" stroke-width="1.6"/>
<circle cx="1656.0" cy="1866.0" r="25.0" fill="#bce2ee" stroke="#000" stroke-width="1.6"/>
<circle cx="1601.7" cy="1881.2" r="25.0" fill="#b1dceb" stroke="#000" stroke-width="1.6"/>
<circle cx="1689.5" cy="1886.5" r="25.0" fill="#addaea" stroke="#000" stroke-width="1.6"/>
<circle cx="1649.6" cy="1894.8" r="25.0" fill="#a7d6e7" stroke="#000" stroke-width="1.6"/>
<circle cx="1622.5" cy="1917.9" r="23.0" fill="#98c9e1" stroke="#000" stroke-width="1.6"/>
<circle cx="1681.5" cy="1933.0" r="22.4" fill="#8ec2dc" stroke="#000" stroke-width="1.6"/>
<circle cx="1786.2" cy="1933.4" r="22.4" fill="#8ec2dc" stroke="#000" stroke-width="1.6"/>
<circle cx="1125.1" cy="1966.7" r="20.8" fill="#79b1d3" stroke="#000" stroke-width="1.6"/>
<circle cx="1275.9" cy="1951.3" r="20.8" fill="#83b9d7" stroke="#000" stroke-width="1.6"/>
<circle cx="1294.5" cy="1961.0" r="20.8" fill="#7db4d5" stroke="#000" stroke-width="1.6"/>
<circle cx="1222.1" cy="1977.5" r="20.0" fill="#72abd0" stroke="#000" stroke-width="1.6"/>
<circle cx="1504.3" cy="1946.9" r="20.5" fill="#85bbd9" stroke="#000" stroke-width="1.6"/>
<circle cx="1517.1" cy="1954.8" r="20.5" fill="#80b7d6" stroke="#000" stroke-width="1.6"/>
<circle cx="1561.8" cy="1964.4" r="20.0" fill="#7ab2d4" stroke="#000" stroke-width="1.6"/>
<circle cx="1536.9" cy="1967.6" r="20.0" fill="#78b1d3" stroke="#000" stroke-width="1.6"/>
<circle cx="1545.2" cy="1985.2" r="20.0" fill="#6da5cd" stroke="#000" stroke-width="1.6"/>
<circle cx="981.0" cy="2014.0" r="18.5" fill="#5c91c2" stroke="#000" stroke-width="1.6"/>
<circle cx="1050.6" cy="2008.1" r="18.5" fill="#6095c5" stroke="#000" stroke-width="1.6"/>
<circle cx="899.0" cy="2054.2" r="17.0" fill="#4576b4" stroke="#000" stroke-width="1.6"/>
<circle cx="1050.6" cy="2055.8" r="17.0" fill="#4574b4" stroke="#000" stroke-width="1.6"/>
<circle cx="1230.1" cy="2059.9" r="16.6" fill="#4472b2" stroke="#000" stroke-width="1.6"/>
<circle cx="1194.3" cy="2076.5" r="16.0" fill="#4066ad" stroke="#000" stroke-width="1.6"/>
<circle cx="1190.3" cy="2082.8" r="16.0" fill="#3f62ab" stroke="#000" stroke-width="1.6"/>
<circle cx="1540.1" cy="2045.2" r="17.5" fill="#4b7cb7" stroke="#000" stroke-width="1.6"/>
<circle cx="1098.7" cy="2110.6" r="14.7" fill="#394fa1" stroke="#000" stroke-width="1.6"/>
<circle cx="1088.8" cy="2143.2" r="13.7" fill="#323896" stroke="#000" stroke-width="1.6"/>
<circle cx="1337.6" cy="2125.4" r="14.5" fill="#36449c" stroke="#000" stroke-width="1.6"/>
<circle cx="518.6" cy="2093.4" r="15.3" fill="#3d5ba7" stroke="#000" stroke-width="1.6"/>
<circle cx="376.8" cy="2132.7" r="13.7" fill="#343f9a" stroke="#000" stroke-width="1.6"/>
<circle cx="333.7" cy="2146.4" r="13.7" fill="#313695" stroke="#000" stroke-width="1.6"/>
<path d="M334.6 2162.4 L1887.4 1759" stroke="#000" stroke-width="2.6" stroke-dasharray="16 8.6" fill="none"/>
<rect x="303" y="1090.7" width="669.3" height="165.5" fill="#fff" stroke="#000" stroke-width="2.2"/>
<text x="330.8" y="1160" font-size="55"><tspan class="i">y</tspan> = 3.12 + 1.11<tspan class="i">x</tspan>, R<tspan font-size="36" dy="-20">2</tspan><tspan dy="20"> = 0.27</tspan></text>
<text x="330.8" y="1225.7" font-size="55"><tspan class="i">p</tspan>-value = 7.23×10<tspan font-size="36" dy="-20">-5</tspan></text>
<text x="1715.5" y="1159.2" font-size="78">(<tspan class="b">b</tspan>)</text>
<text class="b" x="1537.5" y="1320.0" font-size="36.4" text-anchor="end">New York</text>
<text class="b" x="1286.0" y="1471.3" font-size="36.4" text-anchor="end">Los Angeles</text>
<text class="b" x="1281.6" y="1551.6" font-size="36.4" text-anchor="end">Chicago</text>
<text class="b" x="1197.8" y="1627.0" font-size="36.4" text-anchor="end">Houston</text>
<text class="b" x="1111.4" y="1801.2" font-size="36.4" text-anchor="end">Indianapolis</text>
<text class="b" x="1109.8" y="1874.7" font-size="36.4" text-anchor="end">Denver</text>
<text class="b" x="1030.0" y="1946.5" font-size="36.4" text-anchor="end">Long Beach</text>
<text class="b" x="1759.0" y="1702.8" font-size="36.4" text-anchor="start">Phoenix</text>
<text class="b" x="1794.8" y="1906.0" font-size="36.4" text-anchor="start">Boston</text>
<text class="b" x="1822.0" y="1956.4" font-size="36.4" text-anchor="start">Fresno</text>
<text class="b" font-size="36.4" text-anchor="middle" transform="translate(1361.2 1669.5) rotate(-13.0)" y="9.8">San Diego</text>
<text class="b" font-size="36.4" text-anchor="middle" transform="translate(1256.6 1702.2) rotate(30.0)" y="9.8">Austin</text>
<text class="b" font-size="36.4" text-anchor="middle" transform="translate(1223.1 1732.5) rotate(26.6)" y="9.8">Columbus</text>
<text class="b" font-size="36.4" text-anchor="middle" transform="translate(1098.6 1728.5) rotate(23.4)" y="9.8">Fort Worth</text>
<text class="b" font-size="36.4" text-anchor="middle" transform="translate(1314.1 1837.9) rotate(55.8)" y="9.8">Detroit</text>
<text class="b" font-size="36.4" text-anchor="middle" transform="translate(1644.8 1568.1) rotate(-63.9)" y="9.8">Philadelphia</text>
<text class="b" font-size="36.4" text-anchor="middle" transform="translate(1749.4 1560.9) rotate(-49.8)" y="9.8">San Antonio</text>
<text class="b" font-size="36.4" text-anchor="middle" transform="translate(1524.3 1679.1) rotate(-53.0)" y="9.8">San Jose</text>
<text class="b" font-size="36.4" text-anchor="middle" transform="translate(1584.1 1774.0) rotate(-15.6)" y="9.8">Charlotte</text>
<text class="b" font-size="36.4" text-anchor="middle" transform="translate(1629.6 1795.6) rotate(-23.0)" y="9.8">San Francisco</text>
<text class="b" font-size="36.4" text-anchor="middle" transform="translate(1852.3 1810.8) rotate(26.1)" y="9.8">Jacksonville</text>
<text class="b" font-size="36.4" text-anchor="middle" transform="translate(1738.2 1852.3) rotate(32.7)" y="9.8">Seattle</text>
<text class="b" font-size="36.4" text-anchor="middle" transform="translate(1470.0 1902.5) rotate(-16.8)" y="9.8">Nashville</text>
<text class="b" font-size="36.4" text-anchor="middle" transform="translate(1411.7 2025.9) rotate(78.5)" y="9.8">El Paso</text>
<text class="b" font-size="36.4" text-anchor="middle" transform="translate(1475.6 2023.5) rotate(57.1)" y="9.8">Minneapolis</text>
<text class="b" font-size="36.4" text-anchor="middle" transform="translate(1580.1 1942.9) rotate(24.1)" y="9.8">Baltimore</text>
<text class="b" font-size="36.4" text-anchor="middle" transform="translate(1639.2 2013.1) rotate(3.4)" y="9.8">Portland</text>
<text class="b" font-size="36.4" text-anchor="middle" transform="translate(1766.9 2027.5) rotate(-22.6)" y="9.8">Tucson</text>
<path d="M1371.6 1783.6 L1326.2 1746.2" stroke="#3c3c3c" stroke-width="2.2" fill="none"/>
<path d="M1307.7 1730.9 L1333.2 1740.9 L1322.4 1754.0Z" fill="#3c3c3c"/>
<path d="M1362.0 1826.7 L1316.6 1789.3" stroke="#3c3c3c" stroke-width="2.2" fill="none"/>
<path d="M1298.1 1774.0 L1323.6 1784.0 L1312.8 1797.1Z" fill="#3c3c3c"/>
<path d="M1251.8 1823.5 L1206.7 1787.4" stroke="#3c3c3c" stroke-width="2.2" fill="none"/>
<path d="M1188.0 1772.4 L1213.6 1782.0 L1203.0 1795.3Z" fill="#3c3c3c"/>
<path d="M1183.2 1823.5 L1142.6 1804.2" stroke="#3c3c3c" stroke-width="2.2" fill="none"/>
<path d="M1120.9 1793.8 L1148.0 1797.3 L1140.7 1812.7Z" fill="#3c3c3c"/>
<path d="M1186.4 1881.0 L1134.2 1875.1" stroke="#3c3c3c" stroke-width="2.2" fill="none"/>
<path d="M1110.4 1872.4 L1137.2 1866.9 L1135.3 1883.8Z" fill="#3c3c3c"/>
<path d="M1245.4 1890.6 L1276.8 1869.0" stroke="#3c3c3c" stroke-width="2.2" fill="none"/>
<path d="M1296.5 1855.5 L1279.9 1877.2 L1270.3 1863.2Z" fill="#3c3c3c"/>
<path d="M1114.5 1949.7 L1062.7 1944.2" stroke="#3c3c3c" stroke-width="2.2" fill="none"/>
<path d="M1038.8 1941.7 L1065.6 1935.9 L1063.8 1952.8Z" fill="#3c3c3c"/>
<path d="M1630.4 1715.0 L1666.9 1658.5" stroke="#3c3c3c" stroke-width="2.2" fill="none"/>
<path d="M1679.9 1638.4 L1672.9 1664.8 L1658.7 1655.6Z" fill="#3c3c3c"/>
<path d="M1424.5 1794.8 L1462.5 1753.4" stroke="#3c3c3c" stroke-width="2.2" fill="none"/>
<path d="M1478.8 1735.7 L1467.4 1760.6 L1454.9 1749.1Z" fill="#3c3c3c"/>
<path d="M1448.5 1836.3 L1492.8 1812.0" stroke="#3c3c3c" stroke-width="2.2" fill="none"/>
<path d="M1513.9 1800.5 L1495.2 1820.5 L1487.0 1805.5Z" fill="#3c3c3c"/>
<path d="M1758.1 1813.9 L1807.6 1817.6" stroke="#3c3c3c" stroke-width="2.2" fill="none"/>
<path d="M1831.6 1819.4 L1805.0 1825.9 L1806.3 1809.0Z" fill="#3c3c3c"/>
<path d="M1652.8 1863.4 L1687.3 1852.9" stroke="#3c3c3c" stroke-width="2.2" fill="none"/>
<path d="M1710.2 1845.9 L1687.9 1861.6 L1682.9 1845.3Z" fill="#3c3c3c"/>
<path d="M1603.3 1878.2 L1570.1 1883.8" stroke="#3c3c3c" stroke-width="2.2" fill="none"/>
<path d="M1546.5 1887.8 L1570.7 1875.1 L1573.5 1891.9Z" fill="#3c3c3c"/>
<path d="M1687.9 1894.2 L1766.1 1900.3" stroke="#3c3c3c" stroke-width="2.2" fill="none"/>
<path d="M1790.1 1902.2 L1763.5 1908.6 L1764.8 1891.7Z" fill="#3c3c3c"/>
<path d="M1628.8 1914.9 L1594.9 1921.5" stroke="#3c3c3c" stroke-width="2.2" fill="none"/>
<path d="M1571.4 1926.1 L1595.3 1912.8 L1598.5 1929.5Z" fill="#3c3c3c"/>
<path d="M1379.2 1891.0 L1389.5 1942.5" stroke="#3c3c3c" stroke-width="2.2" fill="none"/>
<path d="M1394.2 1966.0 L1380.7 1942.2 L1397.4 1938.9Z" fill="#3c3c3c"/>
<path d="M1654.4 1895.8 L1663.1 1980.4" stroke="#3c3c3c" stroke-width="2.2" fill="none"/>
<path d="M1665.5 2004.3 L1654.4 1979.3 L1671.3 1977.6Z" fill="#3c3c3c"/>
<path d="M1691.1 1937.3 L1731.5 1994.3" stroke="#3c3c3c" stroke-width="2.2" fill="none"/>
<path d="M1745.4 2013.9 L1723.4 1997.6 L1737.3 1987.8Z" fill="#3c3c3c"/>
<path d="M1555.4 1988.4 L1506.8 2008.1" stroke="#3c3c3c" stroke-width="2.2" fill="none"/>
<path d="M1484.5 2017.1 L1505.4 1999.4 L1511.8 2015.2Z" fill="#3c3c3c"/>
<rect x="2274.0" y="1051.9" width="1563.0" height="1234.7" fill="none" stroke="#262626" stroke-width="6.4"/>
<path d="M2469.4 2286.6 v-20 M2469.4 1051.9 v20" stroke="#262626" stroke-width="5.8" fill="none"/>
<path d="M2860.5 2286.6 v-20 M2860.5 1051.9 v20" stroke="#262626" stroke-width="5.8" fill="none"/>
<path d="M3251.6 2286.6 v-20 M3251.6 1051.9 v20" stroke="#262626" stroke-width="5.8" fill="none"/>
<path d="M3642.7 2286.6 v-20 M3642.7 1051.9 v20" stroke="#262626" stroke-width="5.8" fill="none"/>
<path d="M2274.0 1298.9 h20 M3837.0 1298.9 h-20" stroke="#262626" stroke-width="5.8" fill="none"/>
<path d="M2274.0 1545.9 h20 M3837.0 1545.9 h-20" stroke="#262626" stroke-width="5.8" fill="none"/>
<path d="M2274.0 1792.6 h20 M3837.0 1792.6 h-20" stroke="#262626" stroke-width="5.8" fill="none"/>
<path d="M2274.0 2039.8 h20 M3837.0 2039.8 h-20" stroke="#262626" stroke-width="5.8" fill="none"/>
<text x="2469.4" y="2403.6" font-size="96.5" text-anchor="middle" style="fill:#262626">2</text>
<text x="2860.5" y="2403.6" font-size="96.5" text-anchor="middle" style="fill:#262626">2.2</text>
<text x="3251.6" y="2403.6" font-size="96.5" text-anchor="middle" style="fill:#262626">2.4</text>
<text x="3642.7" y="2403.6" font-size="96.5" text-anchor="middle" style="fill:#262626">2.6</text>
<text x="2242.0" y="1086.4" font-size="96.5" text-anchor="end" style="fill:#262626">3.6</text>
<text x="2242.0" y="1333.4" font-size="96.5" text-anchor="end" style="fill:#262626">3.4</text>
<text x="2242.0" y="1580.4" font-size="96.5" text-anchor="end" style="fill:#262626">3.2</text>
<text x="2242.0" y="1827.1" font-size="96.5" text-anchor="end" style="fill:#262626">3</text>
<text x="2242.0" y="2074.3" font-size="96.5" text-anchor="end" style="fill:#262626">2.8</text>
<text x="2242.0" y="2321.1" font-size="96.5" text-anchor="end" style="fill:#262626">2.6</text>
<text x="3050" y="2481.2" font-size="73" text-anchor="middle">Causality outdegree (log)</text>
<text font-size="73" text-anchor="middle" transform="translate(2087.2 1706.6) rotate(-90)">Population density (log)</text>
<circle cx="3057.9" cy="1263.4" r="40.0" fill="#a50026" stroke="#000" stroke-width="2.0"/>
<circle cx="3280.2" cy="1263.4" r="40.0" fill="#a50026" stroke="#000" stroke-width="2.0"/>
<circle cx="3346.5" cy="1348.6" r="36.7" fill="#d83328" stroke="#000" stroke-width="2.0"/>
<circle cx="3537.4" cy="1327.2" r="37.7" fill="#d02927" stroke="#000" stroke-width="2.0"/>
<circle cx="3553.6" cy="1442.0" r="33.5" fill="#f57446" stroke="#000" stroke-width="2.0"/>
<circle cx="3150.2" cy="1498.1" r="32.0" fill="#fca85e" stroke="#000" stroke-width="2.0"/>
<circle cx="3260.4" cy="1498.1" r="32.0" fill="#fca85e" stroke="#000" stroke-width="2.0"/>
<circle cx="3303.5" cy="1544.4" r="30.3" fill="#fdc274" stroke="#000" stroke-width="2.0"/>
<circle cx="3115.1" cy="1562.0" r="29.7" fill="#fecc7d" stroke="#000" stroke-width="2.0"/>
<circle cx="3689.6" cy="1523.2" r="31.0" fill="#fdbb6d" stroke="#000" stroke-width="2.0"/>
<circle cx="3558.7" cy="1582.6" r="28.7" fill="#fed889" stroke="#000" stroke-width="2.0"/>
<circle cx="3609.2" cy="1576.9" r="28.7" fill="#fed586" stroke="#000" stroke-width="2.0"/>
<circle cx="3172.6" cy="1657.0" r="26.0" fill="#fff6b1" stroke="#000" stroke-width="2.0"/>
<circle cx="3217.3" cy="1642.6" r="26.0" fill="#fff3ad" stroke="#000" stroke-width="2.0"/>
<circle cx="3142.2" cy="1637.5" r="27.0" fill="#fff2ab" stroke="#000" stroke-width="2.0"/>
<circle cx="3194.9" cy="1624.7" r="27.8" fill="#feefa7" stroke="#000" stroke-width="2.0"/>
<circle cx="3301.9" cy="1641.0" r="26.0" fill="#fff3ac" stroke="#000" stroke-width="2.0"/>
<circle cx="3297.1" cy="1612.7" r="28.0" fill="#fee699" stroke="#000" stroke-width="2.0"/>
<circle cx="3254.0" cy="1629.8" r="27.0" fill="#fff0a9" stroke="#000" stroke-width="2.0"/>
<circle cx="3453.9" cy="1615.8" r="28.0" fill="#fee89d" stroke="#000" stroke-width="2.0"/>
<circle cx="3531.0" cy="1629.4" r="27.0" fill="#fff0a9" stroke="#000" stroke-width="2.0"/>
<circle cx="3566.0" cy="1697.8" r="26.0" fill="#f3fad5" stroke="#000" stroke-width="2.0"/>
<circle cx="3532.2" cy="1711.8" r="25.5" fill="#ecf8e1" stroke="#000" stroke-width="2.0"/>
<circle cx="2987.3" cy="1760.8" r="25.0" fill="#cce9f2" stroke="#000" stroke-width="2.0"/>
<circle cx="2986.7" cy="1751.9" r="25.0" fill="#d0ebf4" stroke="#000" stroke-width="2.0"/>
<circle cx="3290.1" cy="1729.8" r="25.5" fill="#dbf1f7" stroke="#000" stroke-width="2.0"/>
<circle cx="3432.0" cy="1731.2" r="25.5" fill="#daf0f6" stroke="#000" stroke-width="2.0"/>
<circle cx="3498.2" cy="1769.8" r="25.0" fill="#c8e7f1" stroke="#000" stroke-width="2.0"/>
<circle cx="3589.0" cy="1772.5" r="25.0" fill="#c7e7f1" stroke="#000" stroke-width="2.0"/>
<circle cx="3031.4" cy="1820.5" r="23.3" fill="#addaea" stroke="#000" stroke-width="2.0"/>
<circle cx="3164.6" cy="1807.7" r="23.3" fill="#b0dceb" stroke="#000" stroke-width="2.0"/>
<circle cx="3260.4" cy="1828.8" r="23.3" fill="#abd9e9" stroke="#000" stroke-width="2.0"/>
<circle cx="3115.1" cy="1844.5" r="22.4" fill="#9bcce2" stroke="#000" stroke-width="2.0"/>
<circle cx="3158.2" cy="1856.0" r="22.4" fill="#96c9e0" stroke="#000" stroke-width="2.0"/>
<circle cx="3122.4" cy="1864.6" r="22.4" fill="#93c6df" stroke="#000" stroke-width="2.0"/>
<circle cx="3223.0" cy="1875.1" r="22.4" fill="#8fc3dd" stroke="#000" stroke-width="2.0"/>
<circle cx="3421.5" cy="1834.5" r="23.0" fill="#a5d4e7" stroke="#000" stroke-width="2.0"/>
<circle cx="3448.5" cy="1821.0" r="23.0" fill="#addaea" stroke="#000" stroke-width="2.0"/>
<circle cx="3458.7" cy="1814.5" r="23.0" fill="#afdbea" stroke="#000" stroke-width="2.0"/>
<circle cx="3472.6" cy="1849.7" r="23.0" fill="#99cae1" stroke="#000" stroke-width="2.0"/>
<circle cx="2919.8" cy="1904.7" r="21.7" fill="#70a8ce" stroke="#000" stroke-width="2.0"/>
<circle cx="3023.1" cy="1898.1" r="21.7" fill="#76afd2" stroke="#000" stroke-width="2.0"/>
<circle cx="2841.0" cy="1911.3" r="21.7" fill="#69a0ca" stroke="#000" stroke-width="2.0"/>
<circle cx="3202.3" cy="1920.5" r="21.0" fill="#6196c5" stroke="#000" stroke-width="2.0"/>
<circle cx="3373.3" cy="1905.1" r="21.7" fill="#6fa7ce" stroke="#000" stroke-width="2.0"/>
<circle cx="3595.4" cy="1897.0" r="21.7" fill="#77b0d2" stroke="#000" stroke-width="2.0"/>
<circle cx="3658.7" cy="1936.3" r="21.0" fill="#5c91c2" stroke="#000" stroke-width="2.0"/>
<circle cx="3119.2" cy="1946.0" r="20.8" fill="#5285bc" stroke="#000" stroke-width="2.0"/>
<circle cx="3513.2" cy="1951.0" r="20.8" fill="#4e80ba" stroke="#000" stroke-width="2.0"/>
<circle cx="2477.5" cy="1933.3" r="21.0" fill="#5d92c3" stroke="#000" stroke-width="2.0"/>
<circle cx="2835.9" cy="2000.7" r="19.8" fill="#3f62aa" stroke="#000" stroke-width="2.0"/>
<circle cx="2300.9" cy="2046.0" r="18.5" fill="#333c98" stroke="#000" stroke-width="2.0"/>
<circle cx="2341.1" cy="2055.6" r="18.5" fill="#333c98" stroke="#000" stroke-width="2.0"/>
<path d="M2300.9 1964.6 L3822.2 1582.6" stroke="#4a4a4a" stroke-width="4" stroke-dasharray="17.5 16" fill="none"/>
<rect x="2272.7" y="1084" width="637.9" height="167.2" fill="#fff" stroke="#000" stroke-width="2.2"/>
<text x="2301.7" y="1153.3" font-size="55"><tspan class="i">y</tspan> = 2.10 + 0.4<tspan class="i">x</tspan>, R<tspan font-size="36" dy="-20">2</tspan><tspan dy="20"> = 0.15</tspan></text>
<text x="2301.7" y="1219" font-size="55"><tspan class="i">p</tspan>-value = 3.56×10<tspan font-size="36" dy="-20">-3</tspan></text>
<text x="3648.5" y="1124.3" font-size="78">(<tspan class="b">d</tspan>)</text>
<text class="b" x="2923.5" y="1212.3" font-size="36.4" text-anchor="start">Long Beach</text>
<text class="b" x="3191.1" y="1209.0" font-size="36.4" text-anchor="start">Los Angeles</text>
<text class="b" x="3455.0" y="1269.2" font-size="36.4" text-anchor="start">San Francisco</text>
<text class="b" x="3298.7" y="1357.6" font-size="36.4" text-anchor="end">San Jose</text>
<text class="b" x="3067.8" y="1449.6" font-size="36.4" text-anchor="start">Miami</text>
<text class="b" x="3223.0" y="1449.6" font-size="36.4" text-anchor="start">Hialeah</text>
<text class="b" x="3072.0" y="1569.4" font-size="36.4" text-anchor="end">Denver</text>
<text class="b" x="3608.2" y="1450.7" font-size="36.4" text-anchor="start">New York</text>
<text class="b" x="3713.6" y="1497.0" font-size="36.4" text-anchor="start">Fresno</text>
<text class="b" x="3491.6" y="1511.4" font-size="36.4" text-anchor="start">Portland</text>
<text class="b" x="3009.7" y="1652.2" font-size="36.4" text-anchor="end">Detroit</text>
<text class="b" x="3080.6" y="1690.5" font-size="36.4" text-anchor="end">Fort Worth</text>
<text class="b" x="3057.0" y="1999.7" font-size="36.4" text-anchor="start">Atlanta</text>
<text class="b" x="3659.3" y="1695.8" font-size="36.4" text-anchor="start">Seattle</text>
<text class="b" x="3629.0" y="1782.0" font-size="36.4" text-anchor="start">Tucson</text>
<text class="b" x="3565.1" y="1837.9" font-size="36.4" text-anchor="start">Philadelphia</text>
<text class="b" x="3627.4" y="1900.2" font-size="36.4" text-anchor="start">Boston</text>
<text class="b" x="3581.1" y="1986.5" font-size="36.4" text-anchor="start">Jacksonville</text>
<text class="b" x="2297.7" y="2101.9" font-size="36.4" text-anchor="start">Huntsville</text>
<text class="b" x="2723.5" y="2060.4" font-size="36.4" text-anchor="start">Montgomery</text>
<text class="b" x="2862.4" y="1765.0" font-size="36.4" text-anchor="end">Orlando</text>
<text class="b" font-size="36.4" text-anchor="middle" transform="translate(3391.2 1471.7) rotate(-28.8)" y="9.8">San Diego</text>
<text class="b" font-size="36.4" text-anchor="middle" transform="translate(3398.4 1548.3) rotate(74.6)" y="9.8">El Paso</text>
<text class="b" font-size="36.4" text-anchor="middle" transform="translate(3467.1 1541.2) rotate(45.4)" y="9.8">Lexington</text>
<text class="b" font-size="36.4" text-anchor="middle" transform="translate(3208.4 1551.5) rotate(7.9)" y="9.8">Houston</text>
<text class="b" font-size="36.4" text-anchor="middle" transform="translate(3253.1 1626.7) rotate(57.0)" y="9.8">Chicago</text>
<text class="b" font-size="36.4" text-anchor="middle" transform="translate(3744.6 1572.8) rotate(-14.2)" y="9.8">Phoenix</text>
<text class="b" font-size="36.4" text-anchor="middle" transform="translate(3539.5 1641.5) rotate(-15.0)" y="9.8">San Antonio</text>
<text class="b" font-size="36.4" text-anchor="middle" transform="translate(3386.2 1675.8) rotate(-27.4)" y="9.8">Austin</text>
<text class="b" font-size="36.4" text-anchor="middle" transform="translate(3147.0 1728.0) rotate(-12.7)" y="9.8">Colorado Springs</text>
<text class="b" font-size="36.4" text-anchor="middle" transform="translate(3287.5 1800.7) rotate(25.5)" y="9.8">Columbus</text>
<text class="b" font-size="36.4" text-anchor="middle" transform="translate(3357.7 1789.5) rotate(24.3)" y="9.8">Omaha</text>
<text class="b" font-size="36.4" text-anchor="middle" transform="translate(3511.5 1705.4) rotate(19.0)" y="9.8">Baltimore</text>
<text class="b" font-size="36.4" text-anchor="middle" transform="translate(2764.1 1823.2) rotate(-18.1)" y="9.8">New Orleans</text>
<path d="M3309.8 1614.6 L3368.7 1581.6" stroke="#3c3c3c" stroke-width="2.2" fill="none"/>
<path d="M3389.6 1569.9 L3371.1 1590.0 L3362.8 1575.2Z" fill="#3c3c3c"/>
<path d="M3196.5 1630.6 L3185.6 1593.0" stroke="#3c3c3c" stroke-width="2.2" fill="none"/>
<path d="M3178.9 1569.9 L3194.3 1592.5 L3178.0 1597.2Z" fill="#3c3c3c"/>
<path d="M3127.8 1638.6 L3040.0 1643.6" stroke="#3c3c3c" stroke-width="2.2" fill="none"/>
<path d="M3016.0 1644.9 L3041.5 1635.0 L3042.5 1651.9Z" fill="#3c3c3c"/>
<path d="M3452.5 1611.4 L3454.2 1563.5" stroke="#3c3c3c" stroke-width="2.2" fill="none"/>
<path d="M3455.1 1539.6 L3462.7 1565.9 L3445.7 1565.2Z" fill="#3c3c3c"/>
<path d="M3558.0 1589.6 L3558.0 1540.1" stroke="#3c3c3c" stroke-width="2.2" fill="none"/>
<path d="M3558.0 1516.1 L3566.5 1542.1 L3549.5 1542.1Z" fill="#3c3c3c"/>
<path d="M3604.9 1576.8 L3654.4 1576.8" stroke="#3c3c3c" stroke-width="2.2" fill="none"/>
<path d="M3678.4 1576.8 L3652.4 1585.3 L3652.4 1568.3Z" fill="#3c3c3c"/>
<path d="M3304.8 1650.2 L3339.9 1663.9" stroke="#3c3c3c" stroke-width="2.2" fill="none"/>
<path d="M3362.3 1672.6 L3335.0 1671.1 L3341.1 1655.2Z" fill="#3c3c3c"/>
<path d="M3178.9 1661.8 L3121.2 1680.5" stroke="#3c3c3c" stroke-width="2.2" fill="none"/>
<path d="M3098.4 1687.9 L3120.5 1671.8 L3125.8 1688.0Z" fill="#3c3c3c"/>
<path d="M3223.6 1647.4 L3215.5 1676.9" stroke="#3c3c3c" stroke-width="2.2" fill="none"/>
<path d="M3209.2 1700.1 L3207.9 1672.8 L3224.3 1677.2Z" fill="#3c3c3c"/>
<path d="M2982.5 1752.8 L2894.7 1758.5" stroke="#3c3c3c" stroke-width="2.2" fill="none"/>
<path d="M2870.8 1760.1 L2896.1 1749.9 L2897.3 1766.9Z" fill="#3c3c3c"/>
<path d="M2977.7 1778.3 L2887.6 1801.9" stroke="#3c3c3c" stroke-width="2.2" fill="none"/>
<path d="M2864.4 1808.0 L2887.4 1793.2 L2891.7 1809.6Z" fill="#3c3c3c"/>
<path d="M3290.7 1728.8 L3273.8 1751.2" stroke="#3c3c3c" stroke-width="2.2" fill="none"/>
<path d="M3259.4 1770.3 L3268.2 1744.4 L3281.8 1754.7Z" fill="#3c3c3c"/>
<path d="M3432.8 1732.0 L3407.3 1760.4" stroke="#3c3c3c" stroke-width="2.2" fill="none"/>
<path d="M3391.2 1778.3 L3402.3 1753.3 L3414.9 1764.6Z" fill="#3c3c3c"/>
<path d="M3571.4 1701.5 L3633.9 1691.6" stroke="#3c3c3c" stroke-width="2.2" fill="none"/>
<path d="M3657.6 1687.8 L3633.3 1700.3 L3630.6 1683.5Z" fill="#3c3c3c"/>
<path d="M3496.4 1771.8 L3540.1 1800.2" stroke="#3c3c3c" stroke-width="2.2" fill="none"/>
<path d="M3560.2 1813.3 L3533.8 1806.3 L3543.1 1792.0Z" fill="#3c3c3c"/>
<defs><linearGradient id="cb" x1="0" y1="0" x2="0" y2="1"><stop offset="0%" stop-color="#313695"/><stop offset="10%" stop-color="#4575b4"/><stop offset="20%" stop-color="#74add1"/><stop offset="30%" stop-color="#abd9e9"/><stop offset="40%" stop-color="#e0f3f8"/><stop offset="50%" stop-color="#ffffbf"/><stop offset="60%" stop-color="#fee090"/><stop offset="70%" stop-color="#fdae61"/><stop offset="80%" stop-color="#f46d43"/><stop offset="90%" stop-color="#d73027"/><stop offset="100%" stop-color="#a50026"/></linearGradient></defs>
<rect x="1819.7" y="171.5" width="47" height="760.5" fill="url(#cb)" stroke="#8a8a8a" stroke-width="1"/>
<path d="M1866.7 361.8 h-8" stroke="#444" stroke-width="1.3"/>
<path d="M1866.7 551.8 h-8" stroke="#444" stroke-width="1.3"/>
<path d="M1866.7 741.5 h-8" stroke="#444" stroke-width="1.3"/>
<text font-size="56" text-anchor="middle" transform="translate(1901.2 201.0) rotate(90)">100</text>
<text font-size="56" text-anchor="middle" transform="translate(1901.2 359.4) rotate(90)">150</text>
<text font-size="56" text-anchor="middle" transform="translate(1901.2 550.0) rotate(90)">200</text>
<text font-size="56" text-anchor="middle" transform="translate(1901.2 715.6) rotate(90)">250</text>
<text font-size="56" text-anchor="middle" transform="translate(1901.2 880.5) rotate(90)">300</text>
<rect x="3665.7" y="171.5" width="47" height="760.5" fill="url(#cb)" stroke="#8a8a8a" stroke-width="1"/>
<path d="M3712.7 361.8 h-8" stroke="#444" stroke-width="1.3"/>
<path d="M3712.7 551.8 h-8" stroke="#444" stroke-width="1.3"/>
<path d="M3712.7 741.5 h-8" stroke="#444" stroke-width="1.3"/>
<text font-size="56" text-anchor="middle" transform="translate(3747.2 201.0) rotate(90)">100</text>
<text font-size="56" text-anchor="middle" transform="translate(3747.2 359.4) rotate(90)">150</text>
<text font-size="56" text-anchor="middle" transform="translate(3747.2 550.0) rotate(90)">200</text>
<text font-size="56" text-anchor="middle" transform="translate(3747.2 715.6) rotate(90)">250</text>
<text font-size="56" text-anchor="middle" transform="translate(3747.2 880.5) rotate(90)">300</text>
<text x="1598" y="119.7" font-size="76">(<tspan class="b">a</tspan>)</text>
<text x="3439" y="106" font-size="76">(<tspan class="b">c</tspan>)</text>
<circle cx="350.5" cy="849.7" r="17.5" fill="#c9c9cb" stroke="#000" stroke-width="3.6"/>
<path d="M350.5 917.0 l-18.5 38.5 h37Z" fill="#e4f1dc" stroke="#000" stroke-width="3.4"/>
<text x="400.7" y="867.3" font-size="64">Population totals</text>
<text x="400.7" y="953.5" font-size="64">Causality outdegree</text>
<circle cx="2260.5" cy="813.7" r="17.5" fill="#c9c9cb" stroke="#000" stroke-width="3.6"/>
<path d="M2260.5 882.0 l-18.5 38.5 h37Z" fill="#e4f1dc" stroke="#000" stroke-width="3.4"/>
<text x="2310.7" y="831.3" font-size="64">Population density</text>
<text x="2310.7" y="917.5" font-size="64">Causality outdegree</text>
</svg>
</body></html>
